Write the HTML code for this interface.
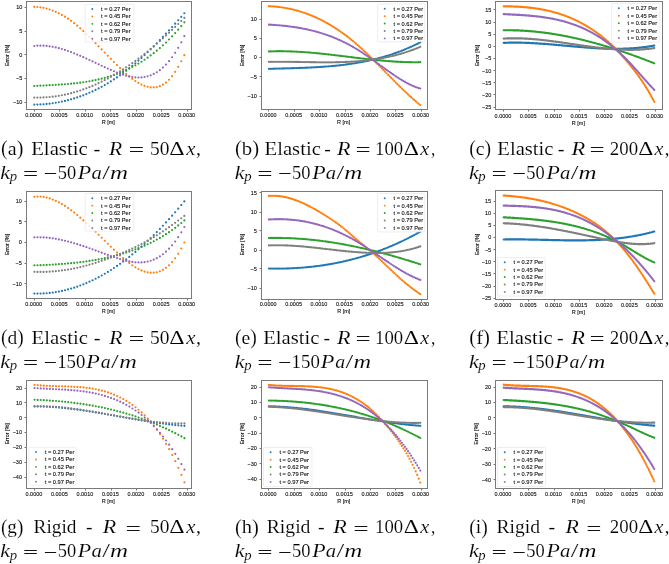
<!DOCTYPE html><html><head><meta charset="utf-8"><style>html,body{margin:0;padding:0;background:#fff;width:669px;height:564px;overflow:hidden}svg{display:block;will-change:transform}.t{font-family:"Liberation Sans",sans-serif;font-size:5.50px;fill:#111}text{font-family:"Liberation Serif",serif;fill:#000;stroke:#fff;stroke-width:0.12px}.t{stroke:#111;stroke-width:0.12px}</style></head><body>
<svg width="669" height="564" viewBox="0 0 669 564">
<defs>
<clipPath id="clipa"><rect x="26.20" y="1.90" width="165.40" height="107.20"/></clipPath>
<clipPath id="clipb"><rect x="261.30" y="1.70" width="166.10" height="107.60"/></clipPath>
<clipPath id="clipc"><rect x="495.80" y="1.50" width="166.60" height="108.30"/></clipPath>
<clipPath id="clipd"><rect x="26.30" y="191.40" width="165.20" height="106.40"/></clipPath>
<clipPath id="clipe"><rect x="261.40" y="191.20" width="166.00" height="107.10"/></clipPath>
<clipPath id="clipf"><rect x="495.70" y="190.40" width="166.70" height="108.20"/></clipPath>
<clipPath id="clipg"><rect x="26.50" y="380.20" width="165.00" height="107.40"/></clipPath>
<clipPath id="cliph"><rect x="261.40" y="380.20" width="166.00" height="107.40"/></clipPath>
<clipPath id="clipi"><rect x="495.50" y="380.10" width="166.90" height="107.70"/></clipPath>
</defs>
<g clip-path="url(#clipa)">
<path d="M34.30 104.62h0M37.36 104.55h0M40.42 104.42h0M43.49 104.23h0M46.55 103.97h0M49.61 103.64h0M52.67 103.24h0M55.73 102.77h0M58.80 102.23h0M61.86 101.62h0M64.92 100.94h0M67.98 100.18h0M71.04 99.36h0M74.11 98.45h0M77.17 97.47h0M80.23 96.42h0M83.29 95.28h0M86.35 94.07h0M89.42 92.77h0M92.48 91.40h0M95.54 89.95h0M98.60 88.41h0M101.66 86.79h0M104.73 85.08h0M107.79 83.29h0M110.85 81.42h0M113.91 79.45h0M116.97 77.40h0M120.04 75.26h0M123.10 73.03h0M126.16 70.71h0M129.22 68.31h0M132.28 65.82h0M135.35 63.26h0M138.41 60.61h0M141.47 57.89h0M144.53 55.10h0M147.59 52.24h0M150.66 49.31h0M153.72 46.31h0M156.78 43.25h0M159.84 40.13h0M162.90 36.95h0M165.97 33.72h0M169.03 30.43h0M172.09 27.09h0M175.15 23.70h0M178.21 20.26h0M181.28 16.78h0M184.34 13.25h0" fill="none" stroke="#1f77b4" stroke-width="2.20" stroke-linecap="round"/>
<path d="M34.30 6.86h0M37.36 7.00h0M40.42 7.33h0M43.49 7.86h0M46.55 8.58h0M49.61 9.48h0M52.67 10.57h0M55.73 11.84h0M58.80 13.29h0M61.86 14.92h0M64.92 16.72h0M67.98 18.70h0M71.04 20.85h0M74.11 23.17h0M77.17 25.65h0M80.23 28.29h0M83.29 31.08h0M86.35 34.00h0M89.42 37.00h0M92.48 40.06h0M95.54 43.16h0M98.60 46.30h0M101.66 49.45h0M104.73 52.61h0M107.79 55.77h0M110.85 58.92h0M113.91 62.03h0M116.97 65.11h0M120.04 68.12h0M123.10 71.03h0M126.16 73.80h0M129.22 76.40h0M132.28 78.81h0M135.35 80.99h0M138.41 82.91h0M141.47 84.53h0M144.53 85.83h0M147.59 86.77h0M150.66 87.32h0M153.72 87.44h0M156.78 87.09h0M159.84 86.20h0M162.90 84.72h0M165.97 82.58h0M169.03 79.73h0M172.09 76.13h0M175.15 71.82h0M178.21 66.84h0M181.28 61.27h0M184.34 55.15h0" fill="none" stroke="#ff7f0e" stroke-width="2.20" stroke-linecap="round"/>
<path d="M34.30 86.01h0M37.36 85.84h0M40.42 85.68h0M43.49 85.53h0M46.55 85.37h0M49.61 85.21h0M52.67 85.05h0M55.73 84.87h0M58.80 84.68h0M61.86 84.47h0M64.92 84.24h0M67.98 83.99h0M71.04 83.71h0M74.11 83.40h0M77.17 83.05h0M80.23 82.67h0M83.29 82.24h0M86.35 81.77h0M89.42 81.25h0M92.48 80.69h0M95.54 80.06h0M98.60 79.38h0M101.66 78.63h0M104.73 77.82h0M107.79 76.94h0M110.85 75.99h0M113.91 74.96h0M116.97 73.86h0M120.04 72.67h0M123.10 71.39h0M126.16 70.03h0M129.22 68.57h0M132.28 67.02h0M135.35 65.37h0M138.41 63.61h0M141.47 61.74h0M144.53 59.76h0M147.59 57.67h0M150.66 55.46h0M153.72 53.13h0M156.78 50.67h0M159.84 48.08h0M162.90 45.36h0M165.97 42.51h0M169.03 39.51h0M172.09 36.37h0M175.15 33.08h0M178.21 29.64h0M181.28 26.05h0M184.34 22.29h0" fill="none" stroke="#2ca02c" stroke-width="2.20" stroke-linecap="round"/>
<path d="M34.30 97.55h0M37.36 97.59h0M40.42 97.55h0M43.49 97.44h0M46.55 97.26h0M49.61 97.00h0M52.67 96.68h0M55.73 96.28h0M58.80 95.80h0M61.86 95.26h0M64.92 94.64h0M67.98 93.95h0M71.04 93.19h0M74.11 92.36h0M77.17 91.46h0M80.23 90.48h0M83.29 89.44h0M86.35 88.32h0M89.42 87.14h0M92.48 85.88h0M95.54 84.55h0M98.60 83.15h0M101.66 81.68h0M104.73 80.14h0M107.79 78.53h0M110.85 76.85h0M113.91 75.11h0M116.97 73.29h0M120.04 71.40h0M123.10 69.45h0M126.16 67.42h0M129.22 65.33h0M132.28 63.18h0M135.35 60.96h0M138.41 58.68h0M141.47 56.34h0M144.53 53.94h0M147.59 51.48h0M150.66 48.96h0M153.72 46.39h0M156.78 43.77h0M159.84 41.09h0M162.90 38.36h0M165.97 35.58h0M169.03 32.76h0M172.09 29.89h0M175.15 26.97h0M178.21 24.00h0M181.28 21.00h0M184.34 17.95h0" fill="none" stroke="#7f7f7f" stroke-width="2.20" stroke-linecap="round"/>
<path d="M34.30 45.98h0M37.36 45.72h0M40.42 45.63h0M43.49 45.71h0M46.55 45.93h0M49.61 46.30h0M52.67 46.79h0M55.73 47.42h0M58.80 48.16h0M61.86 49.00h0M64.92 49.95h0M67.98 50.98h0M71.04 52.09h0M74.11 53.28h0M77.17 54.53h0M80.23 55.83h0M83.29 57.18h0M86.35 58.57h0M89.42 59.98h0M92.48 61.41h0M95.54 62.85h0M98.60 64.30h0M101.66 65.74h0M104.73 67.16h0M107.79 68.56h0M110.85 69.92h0M113.91 71.24h0M116.97 72.49h0M120.04 73.66h0M123.10 74.72h0M126.16 75.64h0M129.22 76.40h0M132.28 76.98h0M135.35 77.35h0M138.41 77.50h0M141.47 77.39h0M144.53 77.01h0M147.59 76.32h0M150.66 75.32h0M153.72 73.96h0M156.78 72.24h0M159.84 70.13h0M162.90 67.59h0M165.97 64.62h0M169.03 61.18h0M172.09 57.26h0M175.15 52.82h0M178.21 47.85h0M181.28 42.32h0M184.34 36.21h0" fill="none" stroke="#9467bd" stroke-width="2.20" stroke-linecap="round"/>
</g>
<rect x="26.50" y="1.50" width="165.00" height="108.00" fill="none" stroke="#7a7a7a" stroke-width="1"/>
<line x1="34.50" y1="109.50" x2="34.50" y2="111.50" stroke="#777" stroke-width="1"/>
<text x="33.60" y="117.20" text-anchor="middle" class="t">0.0000</text>
<line x1="59.50" y1="109.50" x2="59.50" y2="111.50" stroke="#777" stroke-width="1"/>
<text x="59.12" y="117.20" text-anchor="middle" class="t">0.0005</text>
<line x1="85.50" y1="109.50" x2="85.50" y2="111.50" stroke="#777" stroke-width="1"/>
<text x="84.63" y="117.20" text-anchor="middle" class="t">0.0010</text>
<line x1="110.50" y1="109.50" x2="110.50" y2="111.50" stroke="#777" stroke-width="1"/>
<text x="110.15" y="117.20" text-anchor="middle" class="t">0.0015</text>
<line x1="136.50" y1="109.50" x2="136.50" y2="111.50" stroke="#777" stroke-width="1"/>
<text x="135.67" y="117.20" text-anchor="middle" class="t">0.0020</text>
<line x1="161.50" y1="109.50" x2="161.50" y2="111.50" stroke="#777" stroke-width="1"/>
<text x="161.18" y="117.20" text-anchor="middle" class="t">0.0025</text>
<line x1="187.50" y1="109.50" x2="187.50" y2="111.50" stroke="#777" stroke-width="1"/>
<text x="186.70" y="117.20" text-anchor="middle" class="t">0.0030</text>
<line x1="24.50" y1="7.50" x2="26.50" y2="7.50" stroke="#777" stroke-width="1"/>
<text x="22.40" y="9.35" text-anchor="end" class="t">10</text>
<line x1="24.50" y1="31.50" x2="26.50" y2="31.50" stroke="#777" stroke-width="1"/>
<text x="22.40" y="33.05" text-anchor="end" class="t">5</text>
<line x1="24.50" y1="54.50" x2="26.50" y2="54.50" stroke="#777" stroke-width="1"/>
<text x="22.40" y="56.65" text-anchor="end" class="t">0</text>
<line x1="24.50" y1="78.50" x2="26.50" y2="78.50" stroke="#777" stroke-width="1"/>
<text x="22.40" y="80.35" text-anchor="end" class="t">−5</text>
<line x1="24.50" y1="102.50" x2="26.50" y2="102.50" stroke="#777" stroke-width="1"/>
<text x="22.40" y="104.35" text-anchor="end" class="t">−10</text>
<text x="108.20" y="124.00" text-anchor="middle" class="t">R [m]</text>
<text transform="translate(9.00 55.50) rotate(-90)" x="-10.7" class="t" textLength="21.4" lengthAdjust="spacingAndGlyphs">Error [%]</text>
<rect x="85.20" y="4.30" width="48.60" height="37.70" rx="1" fill="#fff" fill-opacity="0.8" stroke="#ddd" stroke-width="0.5"/>
<circle cx="92.30" cy="9.00" r="0.95" fill="#1f77b4"/>
<text x="101.10" y="10.95" class="t" textLength="29.60" lengthAdjust="spacingAndGlyphs">t = 0.27 Per</text>
<circle cx="92.30" cy="16.43" r="0.95" fill="#ff7f0e"/>
<text x="101.10" y="18.38" class="t" textLength="29.60" lengthAdjust="spacingAndGlyphs">t = 0.45 Per</text>
<circle cx="92.30" cy="23.86" r="0.95" fill="#2ca02c"/>
<text x="101.10" y="25.81" class="t" textLength="29.60" lengthAdjust="spacingAndGlyphs">t = 0.62 Per</text>
<circle cx="92.30" cy="31.29" r="0.95" fill="#7f7f7f"/>
<text x="101.10" y="33.24" class="t" textLength="29.60" lengthAdjust="spacingAndGlyphs">t = 0.79 Per</text>
<circle cx="92.30" cy="38.72" r="0.95" fill="#9467bd"/>
<text x="101.10" y="40.67" class="t" textLength="29.60" lengthAdjust="spacingAndGlyphs">t = 0.97 Per</text>
<g clip-path="url(#clipb)">
<path d="M268.90 68.84h0M270.43 68.80h0M271.96 68.75h0M273.49 68.71h0M275.02 68.66h0M276.55 68.62h0M278.07 68.58h0M279.60 68.54h0M281.13 68.50h0M282.66 68.45h0M284.19 68.41h0M285.72 68.37h0M287.25 68.33h0M288.78 68.29h0M290.31 68.24h0M291.84 68.20h0M293.37 68.15h0M294.89 68.11h0M296.42 68.06h0M297.95 68.01h0M299.48 67.96h0M301.01 67.90h0M302.54 67.84h0M304.07 67.79h0M305.60 67.72h0M307.13 67.66h0M308.66 67.59h0M310.19 67.52h0M311.71 67.45h0M313.24 67.37h0M314.77 67.29h0M316.30 67.20h0M317.83 67.12h0M319.36 67.02h0M320.89 66.92h0M322.42 66.82h0M323.95 66.71h0M325.48 66.60h0M327.01 66.49h0M328.53 66.36h0M330.06 66.23h0M331.59 66.10h0M333.12 65.96h0M334.65 65.81h0M336.18 65.66h0M337.71 65.50h0M339.24 65.34h0M340.77 65.17h0M342.30 64.99h0M343.82 64.80h0M345.35 64.61h0M346.88 64.41h0M348.41 64.20h0M349.94 63.98h0M351.47 63.76h0M353.00 63.52h0M354.53 63.28h0M356.06 63.03h0M357.59 62.77h0M359.12 62.51h0M360.64 62.23h0M362.17 61.94h0M363.70 61.65h0M365.23 61.34h0M366.76 61.03h0M368.29 60.70h0M369.82 60.37h0M371.35 60.02h0M372.88 59.66h0M374.41 59.30h0M375.94 58.92h0M377.46 58.53h0M378.99 58.13h0M380.52 57.72h0M382.05 57.29h0M383.58 56.86h0M385.11 56.41h0M386.64 55.95h0M388.17 55.48h0M389.70 54.99h0M391.23 54.49h0M392.76 53.98h0M394.28 53.46h0M395.81 52.92h0M397.34 52.37h0M398.87 51.81h0M400.40 51.23h0M401.93 50.64h0M403.46 50.03h0M404.99 49.41h0M406.52 48.77h0M408.05 48.12h0M409.58 47.46h0M411.10 46.78h0M412.63 46.08h0M414.16 45.37h0M415.69 44.64h0M417.22 43.90h0M418.75 43.14h0M420.28 42.37h0" fill="none" stroke="#1f77b4" stroke-width="2.20" stroke-linecap="round"/>
<path d="M268.90 6.20h0M270.43 6.26h0M271.96 6.35h0M273.49 6.45h0M275.02 6.58h0M276.55 6.72h0M278.07 6.89h0M279.60 7.07h0M281.13 7.27h0M282.66 7.50h0M284.19 7.74h0M285.72 8.00h0M287.25 8.28h0M288.78 8.59h0M290.31 8.91h0M291.84 9.26h0M293.37 9.62h0M294.89 10.01h0M296.42 10.41h0M297.95 10.84h0M299.48 11.29h0M301.01 11.76h0M302.54 12.25h0M304.07 12.76h0M305.60 13.30h0M307.13 13.85h0M308.66 14.43h0M310.19 15.03h0M311.71 15.65h0M313.24 16.29h0M314.77 16.96h0M316.30 17.65h0M317.83 18.36h0M319.36 19.09h0M320.89 19.84h0M322.42 20.62h0M323.95 21.42h0M325.48 22.24h0M327.01 23.09h0M328.53 23.96h0M330.06 24.85h0M331.59 25.76h0M333.12 26.70h0M334.65 27.67h0M336.18 28.65h0M337.71 29.66h0M339.24 30.70h0M340.77 31.75h0M342.30 32.83h0M343.82 33.94h0M345.35 35.07h0M346.88 36.22h0M348.41 37.40h0M349.94 38.61h0M351.47 39.83h0M353.00 41.09h0M354.53 42.37h0M356.06 43.67h0M357.59 45.00h0M359.12 46.35h0M360.64 47.72h0M362.17 49.12h0M363.70 50.53h0M365.23 51.96h0M366.76 53.42h0M368.29 54.88h0M369.82 56.36h0M371.35 57.86h0M372.88 59.36h0M374.41 60.88h0M375.94 62.41h0M377.46 63.95h0M378.99 65.49h0M380.52 67.04h0M382.05 68.59h0M383.58 70.14h0M385.11 71.70h0M386.64 73.26h0M388.17 74.81h0M389.70 76.37h0M391.23 77.92h0M392.76 79.47h0M394.28 81.01h0M395.81 82.54h0M397.34 84.06h0M398.87 85.58h0M400.40 87.08h0M401.93 88.57h0M403.46 90.05h0M404.99 91.51h0M406.52 92.95h0M408.05 94.38h0M409.58 95.79h0M411.10 97.18h0M412.63 98.54h0M414.16 99.89h0M415.69 101.20h0M417.22 102.50h0M418.75 103.76h0M420.28 105.00h0" fill="none" stroke="#ff7f0e" stroke-width="2.20" stroke-linecap="round"/>
<path d="M268.90 51.44h0M270.43 51.38h0M271.96 51.33h0M273.49 51.28h0M275.02 51.25h0M276.55 51.22h0M278.07 51.21h0M279.60 51.20h0M281.13 51.20h0M282.66 51.21h0M284.19 51.23h0M285.72 51.26h0M287.25 51.29h0M288.78 51.33h0M290.31 51.38h0M291.84 51.44h0M293.37 51.50h0M294.89 51.57h0M296.42 51.65h0M297.95 51.73h0M299.48 51.82h0M301.01 51.91h0M302.54 52.02h0M304.07 52.12h0M305.60 52.23h0M307.13 52.35h0M308.66 52.47h0M310.19 52.60h0M311.71 52.73h0M313.24 52.87h0M314.77 53.01h0M316.30 53.16h0M317.83 53.31h0M319.36 53.46h0M320.89 53.62h0M322.42 53.78h0M323.95 53.94h0M325.48 54.11h0M327.01 54.28h0M328.53 54.45h0M330.06 54.62h0M331.59 54.80h0M333.12 54.98h0M334.65 55.16h0M336.18 55.34h0M337.71 55.52h0M339.24 55.70h0M340.77 55.89h0M342.30 56.08h0M343.82 56.26h0M345.35 56.45h0M346.88 56.64h0M348.41 56.83h0M349.94 57.01h0M351.47 57.20h0M353.00 57.39h0M354.53 57.57h0M356.06 57.76h0M357.59 57.94h0M359.12 58.13h0M360.64 58.31h0M362.17 58.49h0M363.70 58.66h0M365.23 58.84h0M366.76 59.01h0M368.29 59.19h0M369.82 59.35h0M371.35 59.52h0M372.88 59.68h0M374.41 59.84h0M375.94 60.00h0M377.46 60.15h0M378.99 60.30h0M380.52 60.44h0M382.05 60.59h0M383.58 60.72h0M385.11 60.85h0M386.64 60.98h0M388.17 61.10h0M389.70 61.22h0M391.23 61.33h0M392.76 61.44h0M394.28 61.54h0M395.81 61.63h0M397.34 61.72h0M398.87 61.80h0M400.40 61.88h0M401.93 61.95h0M403.46 62.01h0M404.99 62.07h0M406.52 62.11h0M408.05 62.15h0M409.58 62.19h0M411.10 62.21h0M412.63 62.23h0M414.16 62.24h0M415.69 62.24h0M417.22 62.23h0M418.75 62.21h0M420.28 62.19h0" fill="none" stroke="#2ca02c" stroke-width="2.20" stroke-linecap="round"/>
<path d="M268.90 61.86h0M270.43 61.83h0M271.96 61.81h0M273.49 61.79h0M275.02 61.77h0M276.55 61.76h0M278.07 61.76h0M279.60 61.75h0M281.13 61.75h0M282.66 61.76h0M284.19 61.77h0M285.72 61.78h0M287.25 61.79h0M288.78 61.80h0M290.31 61.82h0M291.84 61.84h0M293.37 61.86h0M294.89 61.88h0M296.42 61.91h0M297.95 61.93h0M299.48 61.96h0M301.01 61.99h0M302.54 62.01h0M304.07 62.04h0M305.60 62.07h0M307.13 62.09h0M308.66 62.12h0M310.19 62.14h0M311.71 62.17h0M313.24 62.19h0M314.77 62.21h0M316.30 62.23h0M317.83 62.25h0M319.36 62.26h0M320.89 62.28h0M322.42 62.29h0M323.95 62.29h0M325.48 62.30h0M327.01 62.30h0M328.53 62.30h0M330.06 62.29h0M331.59 62.28h0M333.12 62.26h0M334.65 62.25h0M336.18 62.22h0M337.71 62.19h0M339.24 62.16h0M340.77 62.12h0M342.30 62.07h0M343.82 62.02h0M345.35 61.97h0M346.88 61.90h0M348.41 61.83h0M349.94 61.76h0M351.47 61.67h0M353.00 61.58h0M354.53 61.48h0M356.06 61.37h0M357.59 61.26h0M359.12 61.14h0M360.64 61.01h0M362.17 60.87h0M363.70 60.72h0M365.23 60.56h0M366.76 60.39h0M368.29 60.22h0M369.82 60.03h0M371.35 59.83h0M372.88 59.63h0M374.41 59.41h0M375.94 59.18h0M377.46 58.94h0M378.99 58.69h0M380.52 58.43h0M382.05 58.16h0M383.58 57.87h0M385.11 57.58h0M386.64 57.27h0M388.17 56.95h0M389.70 56.61h0M391.23 56.26h0M392.76 55.90h0M394.28 55.53h0M395.81 55.14h0M397.34 54.74h0M398.87 54.32h0M400.40 53.89h0M401.93 53.44h0M403.46 52.98h0M404.99 52.51h0M406.52 52.01h0M408.05 51.51h0M409.58 50.99h0M411.10 50.45h0M412.63 49.89h0M414.16 49.32h0M415.69 48.73h0M417.22 48.13h0M418.75 47.51h0M420.28 46.87h0" fill="none" stroke="#7f7f7f" stroke-width="2.20" stroke-linecap="round"/>
<path d="M268.90 24.64h0M270.43 24.72h0M271.96 24.81h0M273.49 24.91h0M275.02 25.01h0M276.55 25.12h0M278.07 25.25h0M279.60 25.37h0M281.13 25.51h0M282.66 25.66h0M284.19 25.81h0M285.72 25.97h0M287.25 26.15h0M288.78 26.33h0M290.31 26.53h0M291.84 26.73h0M293.37 26.95h0M294.89 27.17h0M296.42 27.41h0M297.95 27.66h0M299.48 27.92h0M301.01 28.20h0M302.54 28.48h0M304.07 28.78h0M305.60 29.10h0M307.13 29.42h0M308.66 29.76h0M310.19 30.12h0M311.71 30.49h0M313.24 30.87h0M314.77 31.27h0M316.30 31.68h0M317.83 32.11h0M319.36 32.55h0M320.89 33.02h0M322.42 33.49h0M323.95 33.99h0M325.48 34.50h0M327.01 35.03h0M328.53 35.57h0M330.06 36.14h0M331.59 36.72h0M333.12 37.32h0M334.65 37.94h0M336.18 38.58h0M337.71 39.24h0M339.24 39.91h0M340.77 40.61h0M342.30 41.33h0M343.82 42.07h0M345.35 42.83h0M346.88 43.61h0M348.41 44.41h0M349.94 45.23h0M351.47 46.08h0M353.00 46.94h0M354.53 47.83h0M356.06 48.75h0M357.59 49.68h0M359.12 50.64h0M360.64 51.62h0M362.17 52.62h0M363.70 53.63h0M365.23 54.66h0M366.76 55.70h0M368.29 56.76h0M369.82 57.83h0M371.35 58.91h0M372.88 59.99h0M374.41 61.09h0M375.94 62.19h0M377.46 63.29h0M378.99 64.40h0M380.52 65.50h0M382.05 66.61h0M383.58 67.71h0M385.11 68.82h0M386.64 69.91h0M388.17 71.00h0M389.70 72.09h0M391.23 73.16h0M392.76 74.22h0M394.28 75.26h0M395.81 76.29h0M397.34 77.30h0M398.87 78.29h0M400.40 79.25h0M401.93 80.18h0M403.46 81.09h0M404.99 81.97h0M406.52 82.81h0M408.05 83.62h0M409.58 84.39h0M411.10 85.12h0M412.63 85.80h0M414.16 86.45h0M415.69 87.04h0M417.22 87.59h0M418.75 88.08h0M420.28 88.52h0" fill="none" stroke="#9467bd" stroke-width="2.20" stroke-linecap="round"/>
</g>
<rect x="261.50" y="1.50" width="166.00" height="108.00" fill="none" stroke="#7a7a7a" stroke-width="1"/>
<line x1="268.50" y1="109.50" x2="268.50" y2="111.50" stroke="#777" stroke-width="1"/>
<text x="268.20" y="117.40" text-anchor="middle" class="t">0.0000</text>
<line x1="294.50" y1="109.50" x2="294.50" y2="111.50" stroke="#777" stroke-width="1"/>
<text x="293.60" y="117.40" text-anchor="middle" class="t">0.0005</text>
<line x1="319.50" y1="109.50" x2="319.50" y2="111.50" stroke="#777" stroke-width="1"/>
<text x="319.00" y="117.40" text-anchor="middle" class="t">0.0010</text>
<line x1="345.50" y1="109.50" x2="345.50" y2="111.50" stroke="#777" stroke-width="1"/>
<text x="344.40" y="117.40" text-anchor="middle" class="t">0.0015</text>
<line x1="370.50" y1="109.50" x2="370.50" y2="111.50" stroke="#777" stroke-width="1"/>
<text x="369.80" y="117.40" text-anchor="middle" class="t">0.0020</text>
<line x1="395.50" y1="109.50" x2="395.50" y2="111.50" stroke="#777" stroke-width="1"/>
<text x="395.20" y="117.40" text-anchor="middle" class="t">0.0025</text>
<line x1="421.50" y1="109.50" x2="421.50" y2="111.50" stroke="#777" stroke-width="1"/>
<text x="420.60" y="117.40" text-anchor="middle" class="t">0.0030</text>
<line x1="259.50" y1="19.50" x2="261.50" y2="19.50" stroke="#777" stroke-width="1"/>
<text x="256.80" y="21.05" text-anchor="end" class="t">10</text>
<line x1="259.50" y1="38.50" x2="261.50" y2="38.50" stroke="#777" stroke-width="1"/>
<text x="256.80" y="40.15" text-anchor="end" class="t">5</text>
<line x1="259.50" y1="57.50" x2="261.50" y2="57.50" stroke="#777" stroke-width="1"/>
<text x="256.80" y="59.45" text-anchor="end" class="t">0</text>
<line x1="259.50" y1="76.50" x2="261.50" y2="76.50" stroke="#777" stroke-width="1"/>
<text x="256.80" y="78.75" text-anchor="end" class="t">−5</text>
<line x1="259.50" y1="96.50" x2="261.50" y2="96.50" stroke="#777" stroke-width="1"/>
<text x="256.80" y="98.05" text-anchor="end" class="t">−10</text>
<text x="343.65" y="124.20" text-anchor="middle" class="t">R [m]</text>
<text transform="translate(244.10 55.50) rotate(-90)" x="-10.7" class="t" textLength="21.4" lengthAdjust="spacingAndGlyphs">Error [%]</text>
<rect x="377.60" y="4.00" width="47.20" height="37.80" rx="1" fill="#fff" fill-opacity="0.8" stroke="#ddd" stroke-width="0.5"/>
<circle cx="384.70" cy="8.70" r="0.95" fill="#1f77b4"/>
<text x="393.50" y="10.65" class="t" textLength="29.60" lengthAdjust="spacingAndGlyphs">t = 0.27 Per</text>
<circle cx="384.70" cy="16.13" r="0.95" fill="#ff7f0e"/>
<text x="393.50" y="18.08" class="t" textLength="29.60" lengthAdjust="spacingAndGlyphs">t = 0.45 Per</text>
<circle cx="384.70" cy="23.56" r="0.95" fill="#2ca02c"/>
<text x="393.50" y="25.51" class="t" textLength="29.60" lengthAdjust="spacingAndGlyphs">t = 0.62 Per</text>
<circle cx="384.70" cy="30.99" r="0.95" fill="#7f7f7f"/>
<text x="393.50" y="32.94" class="t" textLength="29.60" lengthAdjust="spacingAndGlyphs">t = 0.79 Per</text>
<circle cx="384.70" cy="38.42" r="0.95" fill="#9467bd"/>
<text x="393.50" y="40.37" class="t" textLength="29.60" lengthAdjust="spacingAndGlyphs">t = 0.97 Per</text>
<g clip-path="url(#clipc)">
<path d="M503.70 42.87h0M504.46 42.84h0M505.21 42.81h0M505.97 42.78h0M506.73 42.75h0M507.48 42.73h0M508.24 42.71h0M509.00 42.69h0M509.75 42.68h0M510.51 42.66h0M511.27 42.65h0M512.02 42.64h0M512.78 42.63h0M513.54 42.63h0M514.29 42.63h0M515.05 42.63h0M515.81 42.63h0M516.56 42.63h0M517.32 42.64h0M518.08 42.65h0M518.83 42.65h0M519.59 42.67h0M520.35 42.68h0M521.10 42.69h0M521.86 42.71h0M522.62 42.73h0M523.37 42.75h0M524.13 42.77h0M524.89 42.80h0M525.64 42.82h0M526.40 42.85h0M527.16 42.88h0M527.91 42.91h0M528.67 42.94h0M529.43 42.97h0M530.18 43.01h0M530.94 43.04h0M531.70 43.08h0M532.45 43.12h0M533.21 43.16h0M533.97 43.20h0M534.72 43.25h0M535.48 43.29h0M536.24 43.33h0M537.00 43.38h0M537.75 43.43h0M538.51 43.48h0M539.27 43.53h0M540.02 43.58h0M540.78 43.63h0M541.54 43.68h0M542.29 43.74h0M543.05 43.79h0M543.81 43.85h0M544.56 43.91h0M545.32 43.96h0M546.08 44.02h0M546.83 44.08h0M547.59 44.14h0M548.35 44.20h0M549.10 44.26h0M549.86 44.33h0M550.62 44.39h0M551.37 44.45h0M552.13 44.52h0M552.89 44.58h0M553.64 44.65h0M554.40 44.71h0M555.16 44.78h0M555.91 44.84h0M556.67 44.91h0M557.43 44.98h0M558.18 45.05h0M558.94 45.11h0M559.70 45.18h0M560.45 45.25h0M561.21 45.32h0M561.97 45.39h0M562.72 45.46h0M563.48 45.53h0M564.24 45.59h0M564.99 45.66h0M565.75 45.73h0M566.51 45.80h0M567.26 45.87h0M568.02 45.94h0M568.78 46.01h0M569.53 46.08h0M570.29 46.15h0M571.05 46.21h0M571.80 46.28h0M572.56 46.35h0M573.32 46.42h0M574.07 46.49h0M574.83 46.55h0M575.59 46.62h0M576.34 46.69h0M577.10 46.75h0M577.86 46.82h0M578.61 46.88h0M579.37 46.95h0M580.13 47.01h0M580.88 47.07h0M581.64 47.14h0M582.40 47.20h0M583.15 47.26h0M583.91 47.32h0M584.67 47.38h0M585.42 47.44h0M586.18 47.50h0M586.94 47.55h0M587.69 47.61h0M588.45 47.66h0M589.21 47.72h0M589.96 47.77h0M590.72 47.82h0M591.48 47.88h0M592.23 47.93h0M592.99 47.98h0M593.75 48.02h0M594.50 48.07h0M595.26 48.12h0M596.02 48.16h0M596.77 48.21h0M597.53 48.25h0M598.29 48.29h0M599.04 48.33h0M599.80 48.37h0M600.56 48.40h0M601.31 48.44h0M602.07 48.47h0M602.83 48.51h0M603.59 48.54h0M604.34 48.57h0M605.10 48.59h0M605.86 48.62h0M606.61 48.64h0M607.37 48.67h0M608.13 48.69h0M608.88 48.71h0M609.64 48.73h0M610.40 48.74h0M611.15 48.76h0M611.91 48.77h0M612.67 48.78h0M613.42 48.79h0M614.18 48.79h0M614.94 48.80h0M615.69 48.80h0M616.45 48.80h0M617.21 48.80h0M617.96 48.79h0M618.72 48.79h0M619.48 48.78h0M620.23 48.77h0M620.99 48.76h0M621.75 48.74h0M622.50 48.73h0M623.26 48.71h0M624.02 48.68h0M624.77 48.66h0M625.53 48.63h0M626.29 48.60h0M627.04 48.57h0M627.80 48.54h0M628.56 48.50h0M629.31 48.46h0M630.07 48.42h0M630.83 48.38h0M631.58 48.33h0M632.34 48.28h0M633.10 48.23h0M633.85 48.17h0M634.61 48.12h0M635.37 48.05h0M636.12 47.99h0M636.88 47.92h0M637.64 47.86h0M638.39 47.78h0M639.15 47.71h0M639.91 47.63h0M640.66 47.55h0M641.42 47.46h0M642.18 47.38h0M642.93 47.29h0M643.69 47.19h0M644.45 47.10h0M645.20 46.99h0M645.96 46.89h0M646.72 46.78h0M647.47 46.67h0M648.23 46.56h0M648.99 46.44h0M649.74 46.32h0M650.50 46.20h0M651.26 46.07h0M652.01 45.94h0M652.77 45.81h0M653.53 45.67h0M654.28 45.53h0" fill="none" stroke="#1f77b4" stroke-width="2.20" stroke-linecap="round"/>
<path d="M503.70 6.33h0M504.46 6.33h0M505.21 6.34h0M505.97 6.35h0M506.73 6.36h0M507.48 6.37h0M508.24 6.38h0M509.00 6.39h0M509.75 6.41h0M510.51 6.43h0M511.27 6.45h0M512.02 6.47h0M512.78 6.50h0M513.54 6.52h0M514.29 6.55h0M515.05 6.58h0M515.81 6.61h0M516.56 6.65h0M517.32 6.68h0M518.08 6.72h0M518.83 6.77h0M519.59 6.81h0M520.35 6.86h0M521.10 6.91h0M521.86 6.96h0M522.62 7.01h0M523.37 7.07h0M524.13 7.13h0M524.89 7.19h0M525.64 7.26h0M526.40 7.32h0M527.16 7.39h0M527.91 7.47h0M528.67 7.54h0M529.43 7.62h0M530.18 7.71h0M530.94 7.79h0M531.70 7.88h0M532.45 7.98h0M533.21 8.07h0M533.97 8.17h0M534.72 8.27h0M535.48 8.38h0M536.24 8.49h0M537.00 8.60h0M537.75 8.72h0M538.51 8.84h0M539.27 8.96h0M540.02 9.09h0M540.78 9.22h0M541.54 9.35h0M542.29 9.49h0M543.05 9.63h0M543.81 9.78h0M544.56 9.93h0M545.32 10.09h0M546.08 10.24h0M546.83 10.41h0M547.59 10.57h0M548.35 10.74h0M549.10 10.92h0M549.86 11.10h0M550.62 11.28h0M551.37 11.47h0M552.13 11.67h0M552.89 11.86h0M553.64 12.06h0M554.40 12.27h0M555.16 12.48h0M555.91 12.70h0M556.67 12.92h0M557.43 13.14h0M558.18 13.37h0M558.94 13.61h0M559.70 13.85h0M560.45 14.09h0M561.21 14.35h0M561.97 14.60h0M562.72 14.86h0M563.48 15.13h0M564.24 15.40h0M564.99 15.67h0M565.75 15.95h0M566.51 16.24h0M567.26 16.53h0M568.02 16.83h0M568.78 17.13h0M569.53 17.44h0M570.29 17.76h0M571.05 18.08h0M571.80 18.40h0M572.56 18.73h0M573.32 19.07h0M574.07 19.41h0M574.83 19.76h0M575.59 20.12h0M576.34 20.48h0M577.10 20.84h0M577.86 21.22h0M578.61 21.59h0M579.37 21.98h0M580.13 22.37h0M580.88 22.77h0M581.64 23.17h0M582.40 23.58h0M583.15 24.00h0M583.91 24.42h0M584.67 24.85h0M585.42 25.29h0M586.18 25.73h0M586.94 26.18h0M587.69 26.64h0M588.45 27.10h0M589.21 27.57h0M589.96 28.04h0M590.72 28.53h0M591.48 29.02h0M592.23 29.52h0M592.99 30.02h0M593.75 30.53h0M594.50 31.05h0M595.26 31.58h0M596.02 32.11h0M596.77 32.65h0M597.53 33.20h0M598.29 33.75h0M599.04 34.31h0M599.80 34.88h0M600.56 35.46h0M601.31 36.04h0M602.07 36.64h0M602.83 37.24h0M603.59 37.85h0M604.34 38.47h0M605.10 39.09h0M605.86 39.73h0M606.61 40.37h0M607.37 41.03h0M608.13 41.69h0M608.88 42.36h0M609.64 43.04h0M610.40 43.73h0M611.15 44.43h0M611.91 45.14h0M612.67 45.86h0M613.42 46.59h0M614.18 47.33h0M614.94 48.08h0M615.69 48.84h0M616.45 49.62h0M617.21 50.40h0M617.96 51.19h0M618.72 52.00h0M619.48 52.81h0M620.23 53.64h0M620.99 54.47h0M621.75 55.32h0M622.50 56.17h0M623.26 57.03h0M624.02 57.90h0M624.77 58.77h0M625.53 59.66h0M626.29 60.55h0M627.04 61.44h0M627.80 62.35h0M628.56 63.26h0M629.31 64.18h0M630.07 65.10h0M630.83 66.03h0M631.58 66.97h0M632.34 67.92h0M633.10 68.88h0M633.85 69.84h0M634.61 70.82h0M635.37 71.81h0M636.12 72.81h0M636.88 73.82h0M637.64 74.85h0M638.39 75.88h0M639.15 76.94h0M639.91 78.00h0M640.66 79.09h0M641.42 80.18h0M642.18 81.30h0M642.93 82.43h0M643.69 83.58h0M644.45 84.74h0M645.20 85.93h0M645.96 87.13h0M646.72 88.36h0M647.47 89.60h0M648.23 90.87h0M648.99 92.16h0M649.74 93.47h0M650.50 94.80h0M651.26 96.16h0M652.01 97.53h0M652.77 98.94h0M653.53 100.37h0M654.28 101.82h0" fill="none" stroke="#ff7f0e" stroke-width="2.20" stroke-linecap="round"/>
<path d="M503.70 30.25h0M504.46 30.24h0M505.21 30.24h0M505.97 30.23h0M506.73 30.23h0M507.48 30.23h0M508.24 30.23h0M509.00 30.23h0M509.75 30.24h0M510.51 30.25h0M511.27 30.26h0M512.02 30.27h0M512.78 30.28h0M513.54 30.30h0M514.29 30.32h0M515.05 30.34h0M515.81 30.36h0M516.56 30.38h0M517.32 30.41h0M518.08 30.44h0M518.83 30.47h0M519.59 30.50h0M520.35 30.54h0M521.10 30.58h0M521.86 30.61h0M522.62 30.66h0M523.37 30.70h0M524.13 30.74h0M524.89 30.79h0M525.64 30.84h0M526.40 30.89h0M527.16 30.94h0M527.91 31.00h0M528.67 31.06h0M529.43 31.12h0M530.18 31.18h0M530.94 31.24h0M531.70 31.30h0M532.45 31.37h0M533.21 31.44h0M533.97 31.51h0M534.72 31.58h0M535.48 31.66h0M536.24 31.74h0M537.00 31.81h0M537.75 31.90h0M538.51 31.98h0M539.27 32.06h0M540.02 32.15h0M540.78 32.24h0M541.54 32.33h0M542.29 32.42h0M543.05 32.51h0M543.81 32.61h0M544.56 32.70h0M545.32 32.80h0M546.08 32.91h0M546.83 33.01h0M547.59 33.11h0M548.35 33.22h0M549.10 33.33h0M549.86 33.44h0M550.62 33.55h0M551.37 33.66h0M552.13 33.78h0M552.89 33.90h0M553.64 34.02h0M554.40 34.14h0M555.16 34.26h0M555.91 34.39h0M556.67 34.51h0M557.43 34.64h0M558.18 34.77h0M558.94 34.90h0M559.70 35.03h0M560.45 35.17h0M561.21 35.31h0M561.97 35.45h0M562.72 35.59h0M563.48 35.73h0M564.24 35.87h0M564.99 36.02h0M565.75 36.16h0M566.51 36.31h0M567.26 36.46h0M568.02 36.62h0M568.78 36.77h0M569.53 36.92h0M570.29 37.08h0M571.05 37.24h0M571.80 37.40h0M572.56 37.56h0M573.32 37.73h0M574.07 37.89h0M574.83 38.06h0M575.59 38.23h0M576.34 38.40h0M577.10 38.57h0M577.86 38.74h0M578.61 38.92h0M579.37 39.09h0M580.13 39.27h0M580.88 39.45h0M581.64 39.63h0M582.40 39.81h0M583.15 40.00h0M583.91 40.18h0M584.67 40.37h0M585.42 40.56h0M586.18 40.75h0M586.94 40.94h0M587.69 41.14h0M588.45 41.33h0M589.21 41.53h0M589.96 41.73h0M590.72 41.92h0M591.48 42.13h0M592.23 42.33h0M592.99 42.53h0M593.75 42.74h0M594.50 42.94h0M595.26 43.15h0M596.02 43.36h0M596.77 43.57h0M597.53 43.79h0M598.29 44.00h0M599.04 44.22h0M599.80 44.43h0M600.56 44.65h0M601.31 44.87h0M602.07 45.09h0M602.83 45.31h0M603.59 45.54h0M604.34 45.76h0M605.10 45.99h0M605.86 46.22h0M606.61 46.45h0M607.37 46.68h0M608.13 46.91h0M608.88 47.14h0M609.64 47.38h0M610.40 47.61h0M611.15 47.85h0M611.91 48.09h0M612.67 48.33h0M613.42 48.57h0M614.18 48.81h0M614.94 49.05h0M615.69 49.30h0M616.45 49.55h0M617.21 49.79h0M617.96 50.04h0M618.72 50.29h0M619.48 50.54h0M620.23 50.79h0M620.99 51.05h0M621.75 51.30h0M622.50 51.56h0M623.26 51.82h0M624.02 52.07h0M624.77 52.33h0M625.53 52.59h0M626.29 52.85h0M627.04 53.12h0M627.80 53.38h0M628.56 53.65h0M629.31 53.91h0M630.07 54.18h0M630.83 54.45h0M631.58 54.72h0M632.34 54.99h0M633.10 55.26h0M633.85 55.53h0M634.61 55.81h0M635.37 56.08h0M636.12 56.36h0M636.88 56.63h0M637.64 56.91h0M638.39 57.19h0M639.15 57.47h0M639.91 57.75h0M640.66 58.03h0M641.42 58.32h0M642.18 58.60h0M642.93 58.89h0M643.69 59.17h0M644.45 59.46h0M645.20 59.75h0M645.96 60.04h0M646.72 60.33h0M647.47 60.62h0M648.23 60.91h0M648.99 61.20h0M649.74 61.50h0M650.50 61.79h0M651.26 62.09h0M652.01 62.38h0M652.77 62.68h0M653.53 62.98h0M654.28 63.28h0" fill="none" stroke="#2ca02c" stroke-width="2.20" stroke-linecap="round"/>
<path d="M503.70 38.60h0M504.46 38.56h0M505.21 38.52h0M505.97 38.48h0M506.73 38.45h0M507.48 38.42h0M508.24 38.39h0M509.00 38.37h0M509.75 38.35h0M510.51 38.33h0M511.27 38.32h0M512.02 38.31h0M512.78 38.30h0M513.54 38.30h0M514.29 38.30h0M515.05 38.30h0M515.81 38.30h0M516.56 38.31h0M517.32 38.32h0M518.08 38.33h0M518.83 38.35h0M519.59 38.37h0M520.35 38.39h0M521.10 38.41h0M521.86 38.44h0M522.62 38.47h0M523.37 38.50h0M524.13 38.53h0M524.89 38.57h0M525.64 38.61h0M526.40 38.65h0M527.16 38.69h0M527.91 38.74h0M528.67 38.79h0M529.43 38.84h0M530.18 38.89h0M530.94 38.94h0M531.70 39.00h0M532.45 39.06h0M533.21 39.12h0M533.97 39.18h0M534.72 39.25h0M535.48 39.31h0M536.24 39.38h0M537.00 39.45h0M537.75 39.52h0M538.51 39.60h0M539.27 39.67h0M540.02 39.75h0M540.78 39.83h0M541.54 39.91h0M542.29 39.99h0M543.05 40.07h0M543.81 40.16h0M544.56 40.25h0M545.32 40.33h0M546.08 40.42h0M546.83 40.51h0M547.59 40.61h0M548.35 40.70h0M549.10 40.79h0M549.86 40.89h0M550.62 40.99h0M551.37 41.08h0M552.13 41.18h0M552.89 41.28h0M553.64 41.38h0M554.40 41.48h0M555.16 41.59h0M555.91 41.69h0M556.67 41.79h0M557.43 41.90h0M558.18 42.01h0M558.94 42.11h0M559.70 42.22h0M560.45 42.33h0M561.21 42.44h0M561.97 42.54h0M562.72 42.65h0M563.48 42.76h0M564.24 42.87h0M564.99 42.99h0M565.75 43.10h0M566.51 43.21h0M567.26 43.32h0M568.02 43.43h0M568.78 43.54h0M569.53 43.66h0M570.29 43.77h0M571.05 43.88h0M571.80 44.00h0M572.56 44.11h0M573.32 44.22h0M574.07 44.33h0M574.83 44.45h0M575.59 44.56h0M576.34 44.67h0M577.10 44.78h0M577.86 44.90h0M578.61 45.01h0M579.37 45.12h0M580.13 45.23h0M580.88 45.34h0M581.64 45.45h0M582.40 45.56h0M583.15 45.67h0M583.91 45.78h0M584.67 45.88h0M585.42 45.99h0M586.18 46.10h0M586.94 46.20h0M587.69 46.31h0M588.45 46.41h0M589.21 46.52h0M589.96 46.62h0M590.72 46.72h0M591.48 46.82h0M592.23 46.92h0M592.99 47.02h0M593.75 47.12h0M594.50 47.21h0M595.26 47.31h0M596.02 47.40h0M596.77 47.50h0M597.53 47.59h0M598.29 47.68h0M599.04 47.77h0M599.80 47.86h0M600.56 47.94h0M601.31 48.03h0M602.07 48.11h0M602.83 48.19h0M603.59 48.27h0M604.34 48.35h0M605.10 48.43h0M605.86 48.50h0M606.61 48.58h0M607.37 48.65h0M608.13 48.72h0M608.88 48.79h0M609.64 48.86h0M610.40 48.92h0M611.15 48.98h0M611.91 49.04h0M612.67 49.10h0M613.42 49.16h0M614.18 49.21h0M614.94 49.27h0M615.69 49.32h0M616.45 49.36h0M617.21 49.41h0M617.96 49.45h0M618.72 49.49h0M619.48 49.53h0M620.23 49.57h0M620.99 49.60h0M621.75 49.63h0M622.50 49.66h0M623.26 49.69h0M624.02 49.71h0M624.77 49.73h0M625.53 49.75h0M626.29 49.77h0M627.04 49.78h0M627.80 49.79h0M628.56 49.80h0M629.31 49.80h0M630.07 49.80h0M630.83 49.80h0M631.58 49.80h0M632.34 49.79h0M633.10 49.78h0M633.85 49.76h0M634.61 49.75h0M635.37 49.73h0M636.12 49.70h0M636.88 49.68h0M637.64 49.65h0M638.39 49.61h0M639.15 49.58h0M639.91 49.54h0M640.66 49.49h0M641.42 49.45h0M642.18 49.40h0M642.93 49.34h0M643.69 49.28h0M644.45 49.22h0M645.20 49.16h0M645.96 49.09h0M646.72 49.02h0M647.47 48.94h0M648.23 48.86h0M648.99 48.78h0M649.74 48.69h0M650.50 48.60h0M651.26 48.50h0M652.01 48.40h0M652.77 48.30h0M653.53 48.19h0M654.28 48.08h0" fill="none" stroke="#7f7f7f" stroke-width="2.20" stroke-linecap="round"/>
<path d="M503.70 14.11h0M504.46 14.15h0M505.21 14.19h0M505.97 14.23h0M506.73 14.26h0M507.48 14.30h0M508.24 14.34h0M509.00 14.38h0M509.75 14.42h0M510.51 14.46h0M511.27 14.50h0M512.02 14.54h0M512.78 14.58h0M513.54 14.62h0M514.29 14.66h0M515.05 14.70h0M515.81 14.74h0M516.56 14.78h0M517.32 14.83h0M518.08 14.87h0M518.83 14.92h0M519.59 14.96h0M520.35 15.01h0M521.10 15.06h0M521.86 15.10h0M522.62 15.16h0M523.37 15.21h0M524.13 15.26h0M524.89 15.31h0M525.64 15.37h0M526.40 15.43h0M527.16 15.48h0M527.91 15.54h0M528.67 15.61h0M529.43 15.67h0M530.18 15.73h0M530.94 15.80h0M531.70 15.87h0M532.45 15.94h0M533.21 16.01h0M533.97 16.09h0M534.72 16.17h0M535.48 16.24h0M536.24 16.33h0M537.00 16.41h0M537.75 16.50h0M538.51 16.58h0M539.27 16.68h0M540.02 16.77h0M540.78 16.87h0M541.54 16.96h0M542.29 17.07h0M543.05 17.17h0M543.81 17.28h0M544.56 17.39h0M545.32 17.50h0M546.08 17.62h0M546.83 17.74h0M547.59 17.86h0M548.35 17.98h0M549.10 18.11h0M549.86 18.24h0M550.62 18.38h0M551.37 18.52h0M552.13 18.66h0M552.89 18.81h0M553.64 18.96h0M554.40 19.11h0M555.16 19.27h0M555.91 19.43h0M556.67 19.59h0M557.43 19.76h0M558.18 19.94h0M558.94 20.11h0M559.70 20.29h0M560.45 20.48h0M561.21 20.67h0M561.97 20.86h0M562.72 21.06h0M563.48 21.26h0M564.24 21.47h0M564.99 21.68h0M565.75 21.90h0M566.51 22.12h0M567.26 22.34h0M568.02 22.57h0M568.78 22.81h0M569.53 23.05h0M570.29 23.29h0M571.05 23.54h0M571.80 23.80h0M572.56 24.06h0M573.32 24.33h0M574.07 24.60h0M574.83 24.87h0M575.59 25.15h0M576.34 25.44h0M577.10 25.73h0M577.86 26.03h0M578.61 26.33h0M579.37 26.64h0M580.13 26.96h0M580.88 27.28h0M581.64 27.61h0M582.40 27.94h0M583.15 28.28h0M583.91 28.62h0M584.67 28.97h0M585.42 29.33h0M586.18 29.69h0M586.94 30.06h0M587.69 30.44h0M588.45 30.82h0M589.21 31.21h0M589.96 31.60h0M590.72 32.01h0M591.48 32.41h0M592.23 32.83h0M592.99 33.25h0M593.75 33.68h0M594.50 34.12h0M595.26 34.56h0M596.02 35.01h0M596.77 35.46h0M597.53 35.93h0M598.29 36.40h0M599.04 36.88h0M599.80 37.36h0M600.56 37.86h0M601.31 38.36h0M602.07 38.86h0M602.83 39.38h0M603.59 39.90h0M604.34 40.43h0M605.10 40.97h0M605.86 41.51h0M606.61 42.07h0M607.37 42.63h0M608.13 43.19h0M608.88 43.77h0M609.64 44.35h0M610.40 44.94h0M611.15 45.54h0M611.91 46.15h0M612.67 46.76h0M613.42 47.39h0M614.18 48.02h0M614.94 48.65h0M615.69 49.30h0M616.45 49.95h0M617.21 50.62h0M617.96 51.28h0M618.72 51.96h0M619.48 52.65h0M620.23 53.34h0M620.99 54.05h0M621.75 54.76h0M622.50 55.48h0M623.26 56.20h0M624.02 56.94h0M624.77 57.68h0M625.53 58.43h0M626.29 59.19h0M627.04 59.96h0M627.80 60.74h0M628.56 61.53h0M629.31 62.32h0M630.07 63.12h0M630.83 63.93h0M631.58 64.75h0M632.34 65.57h0M633.10 66.40h0M633.85 67.23h0M634.61 68.07h0M635.37 68.91h0M636.12 69.76h0M636.88 70.60h0M637.64 71.46h0M638.39 72.31h0M639.15 73.17h0M639.91 74.02h0M640.66 74.88h0M641.42 75.74h0M642.18 76.60h0M642.93 77.46h0M643.69 78.31h0M644.45 79.17h0M645.20 80.02h0M645.96 80.87h0M646.72 81.72h0M647.47 82.56h0M648.23 83.40h0M648.99 84.23h0M649.74 85.06h0M650.50 85.89h0M651.26 86.70h0M652.01 87.51h0M652.77 88.32h0M653.53 89.11h0M654.28 89.90h0" fill="none" stroke="#9467bd" stroke-width="2.20" stroke-linecap="round"/>
</g>
<rect x="495.50" y="1.50" width="167.00" height="108.00" fill="none" stroke="#7a7a7a" stroke-width="1"/>
<line x1="503.50" y1="109.50" x2="503.50" y2="111.50" stroke="#777" stroke-width="1"/>
<text x="503.00" y="117.90" text-anchor="middle" class="t">0.0000</text>
<line x1="528.50" y1="109.50" x2="528.50" y2="111.50" stroke="#777" stroke-width="1"/>
<text x="528.27" y="117.90" text-anchor="middle" class="t">0.0005</text>
<line x1="554.50" y1="109.50" x2="554.50" y2="111.50" stroke="#777" stroke-width="1"/>
<text x="553.53" y="117.90" text-anchor="middle" class="t">0.0010</text>
<line x1="579.50" y1="109.50" x2="579.50" y2="111.50" stroke="#777" stroke-width="1"/>
<text x="578.80" y="117.90" text-anchor="middle" class="t">0.0015</text>
<line x1="604.50" y1="109.50" x2="604.50" y2="111.50" stroke="#777" stroke-width="1"/>
<text x="604.07" y="117.90" text-anchor="middle" class="t">0.0020</text>
<line x1="630.50" y1="109.50" x2="630.50" y2="111.50" stroke="#777" stroke-width="1"/>
<text x="629.33" y="117.90" text-anchor="middle" class="t">0.0025</text>
<line x1="655.50" y1="109.50" x2="655.50" y2="111.50" stroke="#777" stroke-width="1"/>
<text x="654.60" y="117.90" text-anchor="middle" class="t">0.0030</text>
<line x1="493.50" y1="9.50" x2="495.50" y2="9.50" stroke="#777" stroke-width="1"/>
<text x="491.30" y="11.85" text-anchor="end" class="t">15</text>
<line x1="493.50" y1="22.50" x2="495.50" y2="22.50" stroke="#777" stroke-width="1"/>
<text x="491.30" y="24.25" text-anchor="end" class="t">10</text>
<line x1="493.50" y1="34.50" x2="495.50" y2="34.50" stroke="#777" stroke-width="1"/>
<text x="491.30" y="36.45" text-anchor="end" class="t">5</text>
<line x1="493.50" y1="46.50" x2="495.50" y2="46.50" stroke="#777" stroke-width="1"/>
<text x="491.30" y="48.35" text-anchor="end" class="t">0</text>
<line x1="493.50" y1="58.50" x2="495.50" y2="58.50" stroke="#777" stroke-width="1"/>
<text x="491.30" y="60.15" text-anchor="end" class="t">−5</text>
<line x1="493.50" y1="70.50" x2="495.50" y2="70.50" stroke="#777" stroke-width="1"/>
<text x="491.30" y="72.55" text-anchor="end" class="t">−10</text>
<line x1="493.50" y1="82.50" x2="495.50" y2="82.50" stroke="#777" stroke-width="1"/>
<text x="491.30" y="84.75" text-anchor="end" class="t">−15</text>
<line x1="493.50" y1="94.50" x2="495.50" y2="94.50" stroke="#777" stroke-width="1"/>
<text x="491.30" y="96.65" text-anchor="end" class="t">−20</text>
<line x1="493.50" y1="107.50" x2="495.50" y2="107.50" stroke="#777" stroke-width="1"/>
<text x="491.30" y="109.05" text-anchor="end" class="t">−25</text>
<text x="578.40" y="124.70" text-anchor="middle" class="t">R [m]</text>
<text transform="translate(478.60 55.65) rotate(-90)" x="-10.7" class="t" textLength="21.4" lengthAdjust="spacingAndGlyphs">Error [%]</text>
<rect x="611.70" y="3.60" width="48.00" height="38.60" rx="1" fill="#fff" fill-opacity="0.8" stroke="#ddd" stroke-width="0.5"/>
<circle cx="618.80" cy="8.30" r="0.95" fill="#1f77b4"/>
<text x="627.60" y="10.25" class="t" textLength="29.60" lengthAdjust="spacingAndGlyphs">t = 0.27 Per</text>
<circle cx="618.80" cy="15.73" r="0.95" fill="#ff7f0e"/>
<text x="627.60" y="17.68" class="t" textLength="29.60" lengthAdjust="spacingAndGlyphs">t = 0.45 Per</text>
<circle cx="618.80" cy="23.16" r="0.95" fill="#2ca02c"/>
<text x="627.60" y="25.11" class="t" textLength="29.60" lengthAdjust="spacingAndGlyphs">t = 0.62 Per</text>
<circle cx="618.80" cy="30.59" r="0.95" fill="#7f7f7f"/>
<text x="627.60" y="32.54" class="t" textLength="29.60" lengthAdjust="spacingAndGlyphs">t = 0.79 Per</text>
<circle cx="618.80" cy="38.02" r="0.95" fill="#9467bd"/>
<text x="627.60" y="39.97" class="t" textLength="29.60" lengthAdjust="spacingAndGlyphs">t = 0.97 Per</text>
<g clip-path="url(#clipd)">
<path d="M34.40 293.55h0M37.46 293.59h0M40.52 293.56h0M43.58 293.43h0M46.64 293.23h0M49.70 292.94h0M52.76 292.57h0M55.82 292.11h0M58.88 291.57h0M61.94 290.96h0M65.00 290.25h0M68.06 289.47h0M71.12 288.61h0M74.18 287.66h0M77.24 286.63h0M80.30 285.52h0M83.36 284.33h0M86.42 283.06h0M89.48 281.71h0M92.54 280.28h0M95.60 278.77h0M98.66 277.18h0M101.72 275.50h0M104.78 273.75h0M107.84 271.92h0M110.90 270.01h0M113.96 268.02h0M117.02 265.95h0M120.08 263.81h0M123.14 261.58h0M126.20 259.28h0M129.26 256.90h0M132.32 254.44h0M135.38 251.91h0M138.44 249.29h0M141.50 246.61h0M144.56 243.85h0M147.62 241.01h0M150.68 238.10h0M153.74 235.12h0M156.80 232.06h0M159.86 228.94h0M162.92 225.74h0M165.98 222.47h0M169.04 219.13h0M172.10 215.72h0M175.16 212.24h0M178.22 208.69h0M181.28 205.07h0M184.34 201.38h0" fill="none" stroke="#1f77b4" stroke-width="2.20" stroke-linecap="round"/>
<path d="M34.40 196.73h0M37.46 196.53h0M40.52 196.61h0M43.58 196.97h0M46.64 197.59h0M49.70 198.45h0M52.76 199.54h0M55.82 200.85h0M58.88 202.37h0M61.94 204.08h0M65.00 205.97h0M68.06 208.02h0M71.12 210.23h0M74.18 212.58h0M77.24 215.05h0M80.30 217.63h0M83.36 220.31h0M86.42 223.08h0M89.48 225.92h0M92.54 228.83h0M95.60 231.77h0M98.66 234.75h0M101.72 237.75h0M104.78 240.76h0M107.84 243.76h0M110.90 246.74h0M113.96 249.69h0M117.02 252.58h0M120.08 255.40h0M123.14 258.11h0M126.20 260.68h0M129.26 263.09h0M132.32 265.30h0M135.38 267.28h0M138.44 269.00h0M141.50 270.44h0M144.56 271.55h0M147.62 272.32h0M150.68 272.72h0M153.74 272.70h0M156.80 272.24h0M159.86 271.31h0M162.92 269.86h0M165.98 267.86h0M169.04 265.29h0M172.10 262.10h0M175.16 258.25h0M178.22 253.73h0M181.28 248.48h0M184.34 242.48h0" fill="none" stroke="#ff7f0e" stroke-width="2.20" stroke-linecap="round"/>
<path d="M34.40 265.36h0M37.46 265.26h0M40.52 265.15h0M43.58 265.02h0M46.64 264.88h0M49.70 264.73h0M52.76 264.57h0M55.82 264.39h0M58.88 264.19h0M61.94 263.97h0M65.00 263.73h0M68.06 263.47h0M71.12 263.19h0M74.18 262.88h0M77.24 262.55h0M80.30 262.19h0M83.36 261.80h0M86.42 261.38h0M89.48 260.93h0M92.54 260.44h0M95.60 259.92h0M98.66 259.37h0M101.72 258.77h0M104.78 258.14h0M107.84 257.47h0M110.90 256.76h0M113.96 256.00h0M117.02 255.21h0M120.08 254.36h0M123.14 253.47h0M126.20 252.53h0M129.26 251.53h0M132.32 250.48h0M135.38 249.37h0M138.44 248.20h0M141.50 246.96h0M144.56 245.65h0M147.62 244.26h0M150.68 242.80h0M153.74 241.25h0M156.80 239.61h0M159.86 237.89h0M162.92 236.07h0M165.98 234.16h0M169.04 232.14h0M172.10 230.02h0M175.16 227.79h0M178.22 225.45h0M181.28 222.99h0M184.34 220.41h0" fill="none" stroke="#2ca02c" stroke-width="2.20" stroke-linecap="round"/>
<path d="M34.40 271.83h0M37.46 271.92h0M40.52 271.94h0M43.58 271.91h0M46.64 271.81h0M49.70 271.66h0M52.76 271.44h0M55.82 271.17h0M58.88 270.84h0M61.94 270.46h0M65.00 270.02h0M68.06 269.53h0M71.12 268.98h0M74.18 268.39h0M77.24 267.74h0M80.30 267.04h0M83.36 266.30h0M86.42 265.50h0M89.48 264.66h0M92.54 263.78h0M95.60 262.84h0M98.66 261.87h0M101.72 260.85h0M104.78 259.79h0M107.84 258.69h0M110.90 257.55h0M113.96 256.37h0M117.02 255.15h0M120.08 253.89h0M123.14 252.60h0M126.20 251.27h0M129.26 249.90h0M132.32 248.50h0M135.38 247.04h0M138.44 245.54h0M141.50 243.98h0M144.56 242.37h0M147.62 240.70h0M150.68 238.96h0M153.74 237.16h0M156.80 235.29h0M159.86 233.36h0M162.92 231.36h0M165.98 229.31h0M169.04 227.19h0M172.10 225.03h0M175.16 222.81h0M178.22 220.54h0M181.28 218.24h0M184.34 215.89h0" fill="none" stroke="#7f7f7f" stroke-width="2.20" stroke-linecap="round"/>
<path d="M34.40 237.37h0M37.46 237.27h0M40.52 237.28h0M43.58 237.39h0M46.64 237.61h0M49.70 237.92h0M52.76 238.33h0M55.82 238.82h0M58.88 239.38h0M61.94 240.03h0M65.00 240.74h0M68.06 241.51h0M71.12 242.35h0M74.18 243.23h0M77.24 244.17h0M80.30 245.14h0M83.36 246.15h0M86.42 247.19h0M89.48 248.26h0M92.54 249.35h0M95.60 250.45h0M98.66 251.56h0M101.72 252.68h0M104.78 253.80h0M107.84 254.90h0M110.90 256.00h0M113.96 257.08h0M117.02 258.12h0M120.08 259.09h0M123.14 259.99h0M126.20 260.78h0M129.26 261.45h0M132.32 261.97h0M135.38 262.32h0M138.44 262.47h0M141.50 262.42h0M144.56 262.13h0M147.62 261.58h0M150.68 260.75h0M153.74 259.63h0M156.80 258.18h0M159.86 256.38h0M162.92 254.23h0M165.98 251.68h0M169.04 248.72h0M172.10 245.33h0M175.16 241.49h0M178.22 237.17h0M181.28 232.35h0M184.34 227.02h0" fill="none" stroke="#9467bd" stroke-width="2.20" stroke-linecap="round"/>
</g>
<rect x="26.50" y="191.50" width="165.00" height="107.00" fill="none" stroke="#7a7a7a" stroke-width="1"/>
<line x1="34.50" y1="298.50" x2="34.50" y2="300.50" stroke="#777" stroke-width="1"/>
<text x="33.70" y="305.90" text-anchor="middle" class="t">0.0000</text>
<line x1="59.50" y1="298.50" x2="59.50" y2="300.50" stroke="#777" stroke-width="1"/>
<text x="59.20" y="305.90" text-anchor="middle" class="t">0.0005</text>
<line x1="85.50" y1="298.50" x2="85.50" y2="300.50" stroke="#777" stroke-width="1"/>
<text x="84.70" y="305.90" text-anchor="middle" class="t">0.0010</text>
<line x1="110.50" y1="298.50" x2="110.50" y2="300.50" stroke="#777" stroke-width="1"/>
<text x="110.20" y="305.90" text-anchor="middle" class="t">0.0015</text>
<line x1="136.50" y1="298.50" x2="136.50" y2="300.50" stroke="#777" stroke-width="1"/>
<text x="135.70" y="305.90" text-anchor="middle" class="t">0.0020</text>
<line x1="161.50" y1="298.50" x2="161.50" y2="300.50" stroke="#777" stroke-width="1"/>
<text x="161.20" y="305.90" text-anchor="middle" class="t">0.0025</text>
<line x1="187.50" y1="298.50" x2="187.50" y2="300.50" stroke="#777" stroke-width="1"/>
<text x="186.70" y="305.90" text-anchor="middle" class="t">0.0030</text>
<line x1="24.50" y1="201.50" x2="26.50" y2="201.50" stroke="#777" stroke-width="1"/>
<text x="21.80" y="203.05" text-anchor="end" class="t">10</text>
<line x1="24.50" y1="221.50" x2="26.50" y2="221.50" stroke="#777" stroke-width="1"/>
<text x="21.80" y="223.75" text-anchor="end" class="t">5</text>
<line x1="24.50" y1="242.50" x2="26.50" y2="242.50" stroke="#777" stroke-width="1"/>
<text x="21.80" y="244.45" text-anchor="end" class="t">0</text>
<line x1="24.50" y1="263.50" x2="26.50" y2="263.50" stroke="#777" stroke-width="1"/>
<text x="21.80" y="265.15" text-anchor="end" class="t">−5</text>
<line x1="24.50" y1="283.50" x2="26.50" y2="283.50" stroke="#777" stroke-width="1"/>
<text x="21.80" y="285.85" text-anchor="end" class="t">−10</text>
<text x="108.20" y="312.70" text-anchor="middle" class="t">R [m]</text>
<text transform="translate(9.10 244.60) rotate(-90)" x="-10.7" class="t" textLength="21.4" lengthAdjust="spacingAndGlyphs">Error [%]</text>
<rect x="85.20" y="193.50" width="48.60" height="37.70" rx="1" fill="#fff" fill-opacity="0.8" stroke="#ddd" stroke-width="0.5"/>
<circle cx="92.30" cy="198.20" r="0.95" fill="#1f77b4"/>
<text x="101.10" y="200.15" class="t" textLength="29.60" lengthAdjust="spacingAndGlyphs">t = 0.27 Per</text>
<circle cx="92.30" cy="205.63" r="0.95" fill="#ff7f0e"/>
<text x="101.10" y="207.58" class="t" textLength="29.60" lengthAdjust="spacingAndGlyphs">t = 0.45 Per</text>
<circle cx="92.30" cy="213.06" r="0.95" fill="#2ca02c"/>
<text x="101.10" y="215.01" class="t" textLength="29.60" lengthAdjust="spacingAndGlyphs">t = 0.62 Per</text>
<circle cx="92.30" cy="220.49" r="0.95" fill="#7f7f7f"/>
<text x="101.10" y="222.44" class="t" textLength="29.60" lengthAdjust="spacingAndGlyphs">t = 0.79 Per</text>
<circle cx="92.30" cy="227.92" r="0.95" fill="#9467bd"/>
<text x="101.10" y="229.87" class="t" textLength="29.60" lengthAdjust="spacingAndGlyphs">t = 0.97 Per</text>
<g clip-path="url(#clipe)">
<path d="M268.90 268.49h0M270.43 268.52h0M271.96 268.55h0M273.49 268.57h0M275.02 268.58h0M276.55 268.59h0M278.07 268.59h0M279.60 268.58h0M281.13 268.56h0M282.66 268.54h0M284.19 268.51h0M285.72 268.48h0M287.25 268.44h0M288.78 268.39h0M290.31 268.33h0M291.84 268.27h0M293.37 268.19h0M294.89 268.12h0M296.42 268.03h0M297.95 267.94h0M299.48 267.83h0M301.01 267.73h0M302.54 267.61h0M304.07 267.49h0M305.60 267.35h0M307.13 267.22h0M308.66 267.07h0M310.19 266.91h0M311.71 266.75h0M313.24 266.58h0M314.77 266.40h0M316.30 266.21h0M317.83 266.02h0M319.36 265.81h0M320.89 265.60h0M322.42 265.38h0M323.95 265.16h0M325.48 264.92h0M327.01 264.67h0M328.53 264.42h0M330.06 264.16h0M331.59 263.89h0M333.12 263.61h0M334.65 263.32h0M336.18 263.02h0M337.71 262.72h0M339.24 262.40h0M340.77 262.08h0M342.30 261.75h0M343.82 261.41h0M345.35 261.06h0M346.88 260.70h0M348.41 260.33h0M349.94 259.95h0M351.47 259.56h0M353.00 259.17h0M354.53 258.76h0M356.06 258.35h0M357.59 257.92h0M359.12 257.49h0M360.64 257.04h0M362.17 256.59h0M363.70 256.13h0M365.23 255.66h0M366.76 255.17h0M368.29 254.68h0M369.82 254.18h0M371.35 253.67h0M372.88 253.14h0M374.41 252.61h0M375.94 252.07h0M377.46 251.52h0M378.99 250.95h0M380.52 250.38h0M382.05 249.80h0M383.58 249.20h0M385.11 248.60h0M386.64 247.98h0M388.17 247.36h0M389.70 246.72h0M391.23 246.08h0M392.76 245.42h0M394.28 244.75h0M395.81 244.07h0M397.34 243.39h0M398.87 242.68h0M400.40 241.97h0M401.93 241.25h0M403.46 240.52h0M404.99 239.77h0M406.52 239.02h0M408.05 238.25h0M409.58 237.47h0M411.10 236.68h0M412.63 235.88h0M414.16 235.07h0M415.69 234.25h0M417.22 233.41h0M418.75 232.57h0M420.28 231.71h0" fill="none" stroke="#1f77b4" stroke-width="2.20" stroke-linecap="round"/>
<path d="M268.90 195.94h0M270.43 195.83h0M271.96 195.77h0M273.49 195.76h0M275.02 195.80h0M276.55 195.88h0M278.07 196.00h0M279.60 196.16h0M281.13 196.37h0M282.66 196.61h0M284.19 196.90h0M285.72 197.22h0M287.25 197.58h0M288.78 197.97h0M290.31 198.40h0M291.84 198.86h0M293.37 199.36h0M294.89 199.89h0M296.42 200.45h0M297.95 201.04h0M299.48 201.65h0M301.01 202.30h0M302.54 202.97h0M304.07 203.67h0M305.60 204.39h0M307.13 205.14h0M308.66 205.91h0M310.19 206.70h0M311.71 207.51h0M313.24 208.34h0M314.77 209.19h0M316.30 210.05h0M317.83 210.94h0M319.36 211.83h0M320.89 212.75h0M322.42 213.67h0M323.95 214.61h0M325.48 215.56h0M327.01 216.52h0M328.53 217.49h0M330.06 218.48h0M331.59 219.49h0M333.12 220.51h0M334.65 221.56h0M336.18 222.64h0M337.71 223.75h0M339.24 224.88h0M340.77 226.06h0M342.30 227.27h0M343.82 228.51h0M345.35 229.78h0M346.88 231.08h0M348.41 232.39h0M349.94 233.72h0M351.47 235.05h0M353.00 236.38h0M354.53 237.71h0M356.06 239.03h0M357.59 240.32h0M359.12 241.61h0M360.64 242.87h0M362.17 244.13h0M363.70 245.39h0M365.23 246.64h0M366.76 247.90h0M368.29 249.16h0M369.82 250.44h0M371.35 251.74h0M372.88 253.05h0M374.41 254.40h0M375.94 255.76h0M377.46 257.15h0M378.99 258.56h0M380.52 259.99h0M382.05 261.42h0M383.58 262.87h0M385.11 264.33h0M386.64 265.79h0M388.17 267.25h0M389.70 268.71h0M391.23 270.17h0M392.76 271.62h0M394.28 273.06h0M395.81 274.49h0M397.34 275.91h0M398.87 277.31h0M400.40 278.68h0M401.93 280.04h0M403.46 281.36h0M404.99 282.66h0M406.52 283.93h0M408.05 285.17h0M409.58 286.37h0M411.10 287.55h0M412.63 288.70h0M414.16 289.82h0M415.69 290.92h0M417.22 292.01h0M418.75 293.08h0M420.28 294.14h0" fill="none" stroke="#ff7f0e" stroke-width="2.20" stroke-linecap="round"/>
<path d="M268.90 238.00h0M270.43 237.97h0M271.96 237.95h0M273.49 237.93h0M275.02 237.92h0M276.55 237.92h0M278.07 237.92h0M279.60 237.93h0M281.13 237.95h0M282.66 237.98h0M284.19 238.01h0M285.72 238.05h0M287.25 238.10h0M288.78 238.16h0M290.31 238.22h0M291.84 238.29h0M293.37 238.36h0M294.89 238.44h0M296.42 238.53h0M297.95 238.63h0M299.48 238.73h0M301.01 238.84h0M302.54 238.96h0M304.07 239.08h0M305.60 239.21h0M307.13 239.34h0M308.66 239.48h0M310.19 239.63h0M311.71 239.79h0M313.24 239.95h0M314.77 240.11h0M316.30 240.29h0M317.83 240.47h0M319.36 240.65h0M320.89 240.84h0M322.42 241.04h0M323.95 241.25h0M325.48 241.46h0M327.01 241.67h0M328.53 241.89h0M330.06 242.12h0M331.59 242.35h0M333.12 242.59h0M334.65 242.84h0M336.18 243.09h0M337.71 243.34h0M339.24 243.60h0M340.77 243.87h0M342.30 244.14h0M343.82 244.42h0M345.35 244.70h0M346.88 244.99h0M348.41 245.29h0M349.94 245.59h0M351.47 245.89h0M353.00 246.20h0M354.53 246.52h0M356.06 246.84h0M357.59 247.16h0M359.12 247.49h0M360.64 247.83h0M362.17 248.17h0M363.70 248.51h0M365.23 248.86h0M366.76 249.22h0M368.29 249.58h0M369.82 249.94h0M371.35 250.31h0M372.88 250.68h0M374.41 251.06h0M375.94 251.44h0M377.46 251.83h0M378.99 252.22h0M380.52 252.62h0M382.05 253.02h0M383.58 253.42h0M385.11 253.83h0M386.64 254.25h0M388.17 254.67h0M389.70 255.09h0M391.23 255.51h0M392.76 255.94h0M394.28 256.38h0M395.81 256.82h0M397.34 257.26h0M398.87 257.70h0M400.40 258.15h0M401.93 258.61h0M403.46 259.07h0M404.99 259.53h0M406.52 259.99h0M408.05 260.46h0M409.58 260.93h0M411.10 261.41h0M412.63 261.89h0M414.16 262.37h0M415.69 262.86h0M417.22 263.35h0M418.75 263.84h0M420.28 264.34h0" fill="none" stroke="#2ca02c" stroke-width="2.20" stroke-linecap="round"/>
<path d="M268.90 245.40h0M270.43 245.34h0M271.96 245.30h0M273.49 245.26h0M275.02 245.24h0M276.55 245.23h0M278.07 245.23h0M279.60 245.25h0M281.13 245.27h0M282.66 245.30h0M284.19 245.34h0M285.72 245.39h0M287.25 245.45h0M288.78 245.52h0M290.31 245.60h0M291.84 245.68h0M293.37 245.78h0M294.89 245.87h0M296.42 245.98h0M297.95 246.10h0M299.48 246.22h0M301.01 246.34h0M302.54 246.47h0M304.07 246.61h0M305.60 246.75h0M307.13 246.90h0M308.66 247.05h0M310.19 247.21h0M311.71 247.36h0M313.24 247.53h0M314.77 247.69h0M316.30 247.86h0M317.83 248.03h0M319.36 248.20h0M320.89 248.38h0M322.42 248.55h0M323.95 248.73h0M325.48 248.91h0M327.01 249.09h0M328.53 249.26h0M330.06 249.44h0M331.59 249.62h0M333.12 249.79h0M334.65 249.97h0M336.18 250.14h0M337.71 250.31h0M339.24 250.48h0M340.77 250.65h0M342.30 250.81h0M343.82 250.97h0M345.35 251.13h0M346.88 251.28h0M348.41 251.43h0M349.94 251.58h0M351.47 251.72h0M353.00 251.85h0M354.53 251.98h0M356.06 252.10h0M357.59 252.22h0M359.12 252.33h0M360.64 252.43h0M362.17 252.53h0M363.70 252.62h0M365.23 252.70h0M366.76 252.77h0M368.29 252.83h0M369.82 252.89h0M371.35 252.93h0M372.88 252.97h0M374.41 252.99h0M375.94 253.01h0M377.46 253.01h0M378.99 253.00h0M380.52 252.97h0M382.05 252.94h0M383.58 252.89h0M385.11 252.83h0M386.64 252.75h0M388.17 252.65h0M389.70 252.55h0M391.23 252.42h0M392.76 252.28h0M394.28 252.12h0M395.81 251.95h0M397.34 251.76h0M398.87 251.55h0M400.40 251.32h0M401.93 251.07h0M403.46 250.80h0M404.99 250.51h0M406.52 250.20h0M408.05 249.87h0M409.58 249.52h0M411.10 249.14h0M412.63 248.74h0M414.16 248.32h0M415.69 247.88h0M417.22 247.41h0M418.75 246.92h0M420.28 246.40h0" fill="none" stroke="#7f7f7f" stroke-width="2.20" stroke-linecap="round"/>
<path d="M268.90 219.46h0M270.43 219.38h0M271.96 219.30h0M273.49 219.24h0M275.02 219.20h0M276.55 219.17h0M278.07 219.16h0M279.60 219.17h0M281.13 219.19h0M282.66 219.22h0M284.19 219.27h0M285.72 219.34h0M287.25 219.43h0M288.78 219.53h0M290.31 219.64h0M291.84 219.78h0M293.37 219.92h0M294.89 220.09h0M296.42 220.27h0M297.95 220.47h0M299.48 220.69h0M301.01 220.92h0M302.54 221.17h0M304.07 221.43h0M305.60 221.72h0M307.13 222.02h0M308.66 222.33h0M310.19 222.67h0M311.71 223.02h0M313.24 223.39h0M314.77 223.78h0M316.30 224.18h0M317.83 224.60h0M319.36 225.04h0M320.89 225.50h0M322.42 225.97h0M323.95 226.47h0M325.48 226.98h0M327.01 227.51h0M328.53 228.05h0M330.06 228.62h0M331.59 229.20h0M333.12 229.80h0M334.65 230.42h0M336.18 231.06h0M337.71 231.72h0M339.24 232.39h0M340.77 233.09h0M342.30 233.80h0M343.82 234.53h0M345.35 235.28h0M346.88 236.05h0M348.41 236.84h0M349.94 237.65h0M351.47 238.47h0M353.00 239.32h0M354.53 240.18h0M356.06 241.07h0M357.59 241.97h0M359.12 242.90h0M360.64 243.84h0M362.17 244.79h0M363.70 245.76h0M365.23 246.75h0M366.76 247.75h0M368.29 248.75h0M369.82 249.77h0M371.35 250.79h0M372.88 251.83h0M374.41 252.86h0M375.94 253.91h0M377.46 254.95h0M378.99 255.99h0M380.52 257.04h0M382.05 258.08h0M383.58 259.13h0M385.11 260.16h0M386.64 261.20h0M388.17 262.22h0M389.70 263.24h0M391.23 264.25h0M392.76 265.25h0M394.28 266.24h0M395.81 267.21h0M397.34 268.17h0M398.87 269.11h0M400.40 270.04h0M401.93 270.94h0M403.46 271.83h0M404.99 272.70h0M406.52 273.54h0M408.05 274.36h0M409.58 275.15h0M411.10 275.92h0M412.63 276.66h0M414.16 277.37h0M415.69 278.05h0M417.22 278.70h0M418.75 279.32h0M420.28 279.90h0" fill="none" stroke="#9467bd" stroke-width="2.20" stroke-linecap="round"/>
</g>
<rect x="261.50" y="191.50" width="166.00" height="108.00" fill="none" stroke="#7a7a7a" stroke-width="1"/>
<line x1="268.50" y1="299.50" x2="268.50" y2="301.50" stroke="#777" stroke-width="1"/>
<text x="268.20" y="306.40" text-anchor="middle" class="t">0.0000</text>
<line x1="294.50" y1="299.50" x2="294.50" y2="301.50" stroke="#777" stroke-width="1"/>
<text x="293.60" y="306.40" text-anchor="middle" class="t">0.0005</text>
<line x1="319.50" y1="299.50" x2="319.50" y2="301.50" stroke="#777" stroke-width="1"/>
<text x="319.00" y="306.40" text-anchor="middle" class="t">0.0010</text>
<line x1="345.50" y1="299.50" x2="345.50" y2="301.50" stroke="#777" stroke-width="1"/>
<text x="344.40" y="306.40" text-anchor="middle" class="t">0.0015</text>
<line x1="370.50" y1="299.50" x2="370.50" y2="301.50" stroke="#777" stroke-width="1"/>
<text x="369.80" y="306.40" text-anchor="middle" class="t">0.0020</text>
<line x1="395.50" y1="299.50" x2="395.50" y2="301.50" stroke="#777" stroke-width="1"/>
<text x="395.20" y="306.40" text-anchor="middle" class="t">0.0025</text>
<line x1="421.50" y1="299.50" x2="421.50" y2="301.50" stroke="#777" stroke-width="1"/>
<text x="420.60" y="306.40" text-anchor="middle" class="t">0.0030</text>
<line x1="259.50" y1="192.50" x2="261.50" y2="192.50" stroke="#777" stroke-width="1"/>
<text x="256.90" y="194.95" text-anchor="end" class="t">15</text>
<line x1="259.50" y1="212.50" x2="261.50" y2="212.50" stroke="#777" stroke-width="1"/>
<text x="256.90" y="214.05" text-anchor="end" class="t">10</text>
<line x1="259.50" y1="230.50" x2="261.50" y2="230.50" stroke="#777" stroke-width="1"/>
<text x="256.90" y="232.95" text-anchor="end" class="t">5</text>
<line x1="259.50" y1="250.50" x2="261.50" y2="250.50" stroke="#777" stroke-width="1"/>
<text x="256.90" y="252.05" text-anchor="end" class="t">0</text>
<line x1="259.50" y1="268.50" x2="261.50" y2="268.50" stroke="#777" stroke-width="1"/>
<text x="256.90" y="270.85" text-anchor="end" class="t">−5</text>
<line x1="259.50" y1="288.50" x2="261.50" y2="288.50" stroke="#777" stroke-width="1"/>
<text x="256.90" y="289.95" text-anchor="end" class="t">−10</text>
<text x="343.70" y="313.20" text-anchor="middle" class="t">R [m]</text>
<text transform="translate(244.20 244.75) rotate(-90)" x="-10.7" class="t" textLength="21.4" lengthAdjust="spacingAndGlyphs">Error [%]</text>
<rect x="377.60" y="193.50" width="47.20" height="38.40" rx="1" fill="#fff" fill-opacity="0.8" stroke="#ddd" stroke-width="0.5"/>
<circle cx="384.70" cy="198.20" r="0.95" fill="#1f77b4"/>
<text x="393.50" y="200.15" class="t" textLength="29.60" lengthAdjust="spacingAndGlyphs">t = 0.27 Per</text>
<circle cx="384.70" cy="205.63" r="0.95" fill="#ff7f0e"/>
<text x="393.50" y="207.58" class="t" textLength="29.60" lengthAdjust="spacingAndGlyphs">t = 0.45 Per</text>
<circle cx="384.70" cy="213.06" r="0.95" fill="#2ca02c"/>
<text x="393.50" y="215.01" class="t" textLength="29.60" lengthAdjust="spacingAndGlyphs">t = 0.62 Per</text>
<circle cx="384.70" cy="220.49" r="0.95" fill="#7f7f7f"/>
<text x="393.50" y="222.44" class="t" textLength="29.60" lengthAdjust="spacingAndGlyphs">t = 0.79 Per</text>
<circle cx="384.70" cy="227.92" r="0.95" fill="#9467bd"/>
<text x="393.50" y="229.87" class="t" textLength="29.60" lengthAdjust="spacingAndGlyphs">t = 0.97 Per</text>
<g clip-path="url(#clipf)">
<path d="M503.70 239.50h0M504.46 239.48h0M505.21 239.47h0M505.97 239.46h0M506.73 239.45h0M507.48 239.44h0M508.24 239.43h0M509.00 239.42h0M509.75 239.41h0M510.51 239.41h0M511.27 239.40h0M512.02 239.40h0M512.78 239.40h0M513.54 239.40h0M514.29 239.40h0M515.05 239.40h0M515.81 239.40h0M516.56 239.40h0M517.32 239.40h0M518.08 239.41h0M518.83 239.41h0M519.59 239.42h0M520.35 239.42h0M521.10 239.43h0M521.86 239.44h0M522.62 239.45h0M523.37 239.45h0M524.13 239.46h0M524.89 239.47h0M525.64 239.48h0M526.40 239.50h0M527.16 239.51h0M527.91 239.52h0M528.67 239.53h0M529.43 239.55h0M530.18 239.56h0M530.94 239.57h0M531.70 239.59h0M532.45 239.60h0M533.21 239.62h0M533.97 239.63h0M534.72 239.65h0M535.48 239.67h0M536.24 239.68h0M537.00 239.70h0M537.75 239.72h0M538.51 239.73h0M539.27 239.75h0M540.02 239.77h0M540.78 239.79h0M541.54 239.80h0M542.29 239.82h0M543.05 239.84h0M543.81 239.86h0M544.56 239.88h0M545.32 239.89h0M546.08 239.91h0M546.83 239.93h0M547.59 239.95h0M548.35 239.97h0M549.10 239.98h0M549.86 240.00h0M550.62 240.02h0M551.37 240.04h0M552.13 240.06h0M552.89 240.07h0M553.64 240.09h0M554.40 240.11h0M555.16 240.12h0M555.91 240.14h0M556.67 240.15h0M557.43 240.17h0M558.18 240.18h0M558.94 240.20h0M559.70 240.21h0M560.45 240.23h0M561.21 240.24h0M561.97 240.25h0M562.72 240.27h0M563.48 240.28h0M564.24 240.29h0M564.99 240.30h0M565.75 240.31h0M566.51 240.32h0M567.26 240.33h0M568.02 240.34h0M568.78 240.35h0M569.53 240.35h0M570.29 240.36h0M571.05 240.36h0M571.80 240.37h0M572.56 240.37h0M573.32 240.38h0M574.07 240.38h0M574.83 240.38h0M575.59 240.38h0M576.34 240.38h0M577.10 240.38h0M577.86 240.38h0M578.61 240.38h0M579.37 240.37h0M580.13 240.37h0M580.88 240.36h0M581.64 240.35h0M582.40 240.35h0M583.15 240.34h0M583.91 240.33h0M584.67 240.31h0M585.42 240.30h0M586.18 240.29h0M586.94 240.27h0M587.69 240.26h0M588.45 240.24h0M589.21 240.22h0M589.96 240.20h0M590.72 240.18h0M591.48 240.16h0M592.23 240.13h0M592.99 240.11h0M593.75 240.08h0M594.50 240.05h0M595.26 240.03h0M596.02 239.99h0M596.77 239.96h0M597.53 239.93h0M598.29 239.89h0M599.04 239.86h0M599.80 239.82h0M600.56 239.78h0M601.31 239.74h0M602.07 239.69h0M602.83 239.65h0M603.59 239.60h0M604.34 239.55h0M605.10 239.50h0M605.86 239.45h0M606.61 239.40h0M607.37 239.34h0M608.13 239.28h0M608.88 239.22h0M609.64 239.16h0M610.40 239.10h0M611.15 239.04h0M611.91 238.97h0M612.67 238.90h0M613.42 238.83h0M614.18 238.76h0M614.94 238.68h0M615.69 238.61h0M616.45 238.53h0M617.21 238.45h0M617.96 238.37h0M618.72 238.28h0M619.48 238.19h0M620.23 238.10h0M620.99 238.01h0M621.75 237.92h0M622.50 237.82h0M623.26 237.73h0M624.02 237.63h0M624.77 237.52h0M625.53 237.42h0M626.29 237.31h0M627.04 237.20h0M627.80 237.09h0M628.56 236.97h0M629.31 236.86h0M630.07 236.74h0M630.83 236.62h0M631.58 236.49h0M632.34 236.37h0M633.10 236.24h0M633.85 236.10h0M634.61 235.97h0M635.37 235.83h0M636.12 235.69h0M636.88 235.55h0M637.64 235.41h0M638.39 235.26h0M639.15 235.11h0M639.91 234.96h0M640.66 234.80h0M641.42 234.64h0M642.18 234.48h0M642.93 234.32h0M643.69 234.15h0M644.45 233.98h0M645.20 233.81h0M645.96 233.63h0M646.72 233.45h0M647.47 233.27h0M648.23 233.08h0M648.99 232.90h0M649.74 232.71h0M650.50 232.51h0M651.26 232.32h0M652.01 232.12h0M652.77 231.91h0M653.53 231.71h0M654.28 231.50h0" fill="none" stroke="#1f77b4" stroke-width="2.20" stroke-linecap="round"/>
<path d="M503.70 195.56h0M504.46 195.61h0M505.21 195.66h0M505.97 195.71h0M506.73 195.77h0M507.48 195.83h0M508.24 195.88h0M509.00 195.95h0M509.75 196.01h0M510.51 196.07h0M511.27 196.14h0M512.02 196.21h0M512.78 196.28h0M513.54 196.35h0M514.29 196.43h0M515.05 196.50h0M515.81 196.58h0M516.56 196.66h0M517.32 196.75h0M518.08 196.83h0M518.83 196.92h0M519.59 197.01h0M520.35 197.11h0M521.10 197.20h0M521.86 197.30h0M522.62 197.40h0M523.37 197.50h0M524.13 197.61h0M524.89 197.72h0M525.64 197.83h0M526.40 197.94h0M527.16 198.06h0M527.91 198.17h0M528.67 198.30h0M529.43 198.42h0M530.18 198.55h0M530.94 198.68h0M531.70 198.81h0M532.45 198.94h0M533.21 199.08h0M533.97 199.22h0M534.72 199.37h0M535.48 199.52h0M536.24 199.67h0M537.00 199.82h0M537.75 199.98h0M538.51 200.13h0M539.27 200.30h0M540.02 200.46h0M540.78 200.63h0M541.54 200.81h0M542.29 200.98h0M543.05 201.16h0M543.81 201.34h0M544.56 201.53h0M545.32 201.72h0M546.08 201.91h0M546.83 202.11h0M547.59 202.31h0M548.35 202.51h0M549.10 202.72h0M549.86 202.93h0M550.62 203.14h0M551.37 203.36h0M552.13 203.58h0M552.89 203.81h0M553.64 204.03h0M554.40 204.27h0M555.16 204.50h0M555.91 204.74h0M556.67 204.99h0M557.43 205.24h0M558.18 205.49h0M558.94 205.75h0M559.70 206.01h0M560.45 206.27h0M561.21 206.54h0M561.97 206.81h0M562.72 207.09h0M563.48 207.37h0M564.24 207.65h0M564.99 207.94h0M565.75 208.24h0M566.51 208.53h0M567.26 208.84h0M568.02 209.14h0M568.78 209.45h0M569.53 209.77h0M570.29 210.09h0M571.05 210.41h0M571.80 210.74h0M572.56 211.08h0M573.32 211.41h0M574.07 211.76h0M574.83 212.10h0M575.59 212.46h0M576.34 212.81h0M577.10 213.17h0M577.86 213.54h0M578.61 213.91h0M579.37 214.29h0M580.13 214.67h0M580.88 215.05h0M581.64 215.45h0M582.40 215.84h0M583.15 216.24h0M583.91 216.65h0M584.67 217.06h0M585.42 217.47h0M586.18 217.90h0M586.94 218.32h0M587.69 218.76h0M588.45 219.20h0M589.21 219.64h0M589.96 220.09h0M590.72 220.55h0M591.48 221.02h0M592.23 221.49h0M592.99 221.98h0M593.75 222.46h0M594.50 222.96h0M595.26 223.47h0M596.02 223.98h0M596.77 224.50h0M597.53 225.03h0M598.29 225.57h0M599.04 226.12h0M599.80 226.68h0M600.56 227.25h0M601.31 227.83h0M602.07 228.42h0M602.83 229.02h0M603.59 229.62h0M604.34 230.24h0M605.10 230.87h0M605.86 231.51h0M606.61 232.16h0M607.37 232.81h0M608.13 233.48h0M608.88 234.15h0M609.64 234.84h0M610.40 235.53h0M611.15 236.23h0M611.91 236.95h0M612.67 237.67h0M613.42 238.40h0M614.18 239.14h0M614.94 239.89h0M615.69 240.65h0M616.45 241.42h0M617.21 242.21h0M617.96 243.00h0M618.72 243.80h0M619.48 244.62h0M620.23 245.45h0M620.99 246.29h0M621.75 247.14h0M622.50 248.01h0M623.26 248.89h0M624.02 249.78h0M624.77 250.68h0M625.53 251.60h0M626.29 252.53h0M627.04 253.47h0M627.80 254.42h0M628.56 255.38h0M629.31 256.35h0M630.07 257.34h0M630.83 258.34h0M631.58 259.35h0M632.34 260.36h0M633.10 261.39h0M633.85 262.43h0M634.61 263.48h0M635.37 264.54h0M636.12 265.61h0M636.88 266.69h0M637.64 267.78h0M638.39 268.88h0M639.15 269.99h0M639.91 271.11h0M640.66 272.23h0M641.42 273.37h0M642.18 274.51h0M642.93 275.66h0M643.69 276.82h0M644.45 277.98h0M645.20 279.16h0M645.96 280.34h0M646.72 281.52h0M647.47 282.72h0M648.23 283.91h0M648.99 285.12h0M649.74 286.33h0M650.50 287.55h0M651.26 288.77h0M652.01 290.00h0M652.77 291.23h0M653.53 292.47h0M654.28 293.71h0" fill="none" stroke="#ff7f0e" stroke-width="2.20" stroke-linecap="round"/>
<path d="M503.70 217.32h0M504.46 217.37h0M505.21 217.41h0M505.97 217.45h0M506.73 217.50h0M507.48 217.54h0M508.24 217.58h0M509.00 217.63h0M509.75 217.67h0M510.51 217.72h0M511.27 217.77h0M512.02 217.81h0M512.78 217.86h0M513.54 217.91h0M514.29 217.95h0M515.05 218.00h0M515.81 218.05h0M516.56 218.10h0M517.32 218.15h0M518.08 218.20h0M518.83 218.25h0M519.59 218.31h0M520.35 218.36h0M521.10 218.41h0M521.86 218.47h0M522.62 218.52h0M523.37 218.58h0M524.13 218.64h0M524.89 218.70h0M525.64 218.76h0M526.40 218.82h0M527.16 218.88h0M527.91 218.94h0M528.67 219.00h0M529.43 219.07h0M530.18 219.14h0M530.94 219.20h0M531.70 219.27h0M532.45 219.34h0M533.21 219.41h0M533.97 219.48h0M534.72 219.56h0M535.48 219.63h0M536.24 219.71h0M537.00 219.78h0M537.75 219.86h0M538.51 219.94h0M539.27 220.02h0M540.02 220.11h0M540.78 220.19h0M541.54 220.28h0M542.29 220.37h0M543.05 220.45h0M543.81 220.55h0M544.56 220.64h0M545.32 220.73h0M546.08 220.83h0M546.83 220.93h0M547.59 221.03h0M548.35 221.13h0M549.10 221.23h0M549.86 221.33h0M550.62 221.44h0M551.37 221.55h0M552.13 221.66h0M552.89 221.77h0M553.64 221.89h0M554.40 222.00h0M555.16 222.12h0M555.91 222.24h0M556.67 222.37h0M557.43 222.49h0M558.18 222.62h0M558.94 222.75h0M559.70 222.88h0M560.45 223.01h0M561.21 223.15h0M561.97 223.29h0M562.72 223.43h0M563.48 223.57h0M564.24 223.72h0M564.99 223.86h0M565.75 224.01h0M566.51 224.17h0M567.26 224.32h0M568.02 224.48h0M568.78 224.64h0M569.53 224.80h0M570.29 224.97h0M571.05 225.13h0M571.80 225.31h0M572.56 225.48h0M573.32 225.65h0M574.07 225.83h0M574.83 226.01h0M575.59 226.20h0M576.34 226.39h0M577.10 226.58h0M577.86 226.77h0M578.61 226.96h0M579.37 227.16h0M580.13 227.36h0M580.88 227.57h0M581.64 227.78h0M582.40 227.99h0M583.15 228.20h0M583.91 228.42h0M584.67 228.64h0M585.42 228.86h0M586.18 229.09h0M586.94 229.32h0M587.69 229.55h0M588.45 229.78h0M589.21 230.02h0M589.96 230.27h0M590.72 230.51h0M591.48 230.76h0M592.23 231.02h0M592.99 231.27h0M593.75 231.53h0M594.50 231.80h0M595.26 232.06h0M596.02 232.34h0M596.77 232.61h0M597.53 232.89h0M598.29 233.17h0M599.04 233.46h0M599.80 233.75h0M600.56 234.04h0M601.31 234.34h0M602.07 234.65h0M602.83 234.95h0M603.59 235.26h0M604.34 235.58h0M605.10 235.90h0M605.86 236.22h0M606.61 236.55h0M607.37 236.88h0M608.13 237.22h0M608.88 237.56h0M609.64 237.90h0M610.40 238.25h0M611.15 238.61h0M611.91 238.96h0M612.67 239.33h0M613.42 239.70h0M614.18 240.07h0M614.94 240.45h0M615.69 240.83h0M616.45 241.21h0M617.21 241.61h0M617.96 242.00h0M618.72 242.40h0M619.48 242.81h0M620.23 243.22h0M620.99 243.64h0M621.75 244.06h0M622.50 244.49h0M623.26 244.92h0M624.02 245.36h0M624.77 245.80h0M625.53 246.24h0M626.29 246.69h0M627.04 247.14h0M627.80 247.60h0M628.56 248.05h0M629.31 248.51h0M630.07 248.97h0M630.83 249.44h0M631.58 249.90h0M632.34 250.36h0M633.10 250.83h0M633.85 251.29h0M634.61 251.76h0M635.37 252.22h0M636.12 252.68h0M636.88 253.14h0M637.64 253.60h0M638.39 254.06h0M639.15 254.51h0M639.91 254.96h0M640.66 255.41h0M641.42 255.85h0M642.18 256.29h0M642.93 256.72h0M643.69 257.15h0M644.45 257.57h0M645.20 257.99h0M645.96 258.40h0M646.72 258.81h0M647.47 259.21h0M648.23 259.60h0M648.99 259.98h0M649.74 260.36h0M650.50 260.72h0M651.26 261.08h0M652.01 261.43h0M652.77 261.77h0M653.53 262.10h0M654.28 262.42h0" fill="none" stroke="#2ca02c" stroke-width="2.20" stroke-linecap="round"/>
<path d="M503.70 223.27h0M504.46 223.29h0M505.21 223.31h0M505.97 223.34h0M506.73 223.37h0M507.48 223.40h0M508.24 223.44h0M509.00 223.47h0M509.75 223.51h0M510.51 223.55h0M511.27 223.60h0M512.02 223.64h0M512.78 223.69h0M513.54 223.74h0M514.29 223.79h0M515.05 223.84h0M515.81 223.90h0M516.56 223.96h0M517.32 224.02h0M518.08 224.08h0M518.83 224.14h0M519.59 224.21h0M520.35 224.28h0M521.10 224.35h0M521.86 224.42h0M522.62 224.49h0M523.37 224.57h0M524.13 224.64h0M524.89 224.72h0M525.64 224.80h0M526.40 224.88h0M527.16 224.97h0M527.91 225.05h0M528.67 225.14h0M529.43 225.23h0M530.18 225.32h0M530.94 225.41h0M531.70 225.51h0M532.45 225.60h0M533.21 225.70h0M533.97 225.80h0M534.72 225.90h0M535.48 226.00h0M536.24 226.11h0M537.00 226.21h0M537.75 226.32h0M538.51 226.43h0M539.27 226.54h0M540.02 226.65h0M540.78 226.76h0M541.54 226.87h0M542.29 226.99h0M543.05 227.11h0M543.81 227.22h0M544.56 227.34h0M545.32 227.46h0M546.08 227.59h0M546.83 227.71h0M547.59 227.83h0M548.35 227.96h0M549.10 228.09h0M549.86 228.21h0M550.62 228.34h0M551.37 228.47h0M552.13 228.61h0M552.89 228.74h0M553.64 228.87h0M554.40 229.01h0M555.16 229.14h0M555.91 229.28h0M556.67 229.42h0M557.43 229.56h0M558.18 229.70h0M558.94 229.84h0M559.70 229.98h0M560.45 230.12h0M561.21 230.27h0M561.97 230.41h0M562.72 230.56h0M563.48 230.70h0M564.24 230.85h0M564.99 231.00h0M565.75 231.15h0M566.51 231.30h0M567.26 231.45h0M568.02 231.60h0M568.78 231.75h0M569.53 231.90h0M570.29 232.06h0M571.05 232.21h0M571.80 232.36h0M572.56 232.52h0M573.32 232.68h0M574.07 232.83h0M574.83 232.99h0M575.59 233.15h0M576.34 233.30h0M577.10 233.46h0M577.86 233.62h0M578.61 233.78h0M579.37 233.94h0M580.13 234.10h0M580.88 234.26h0M581.64 234.42h0M582.40 234.59h0M583.15 234.75h0M583.91 234.91h0M584.67 235.07h0M585.42 235.24h0M586.18 235.40h0M586.94 235.56h0M587.69 235.73h0M588.45 235.89h0M589.21 236.06h0M589.96 236.22h0M590.72 236.39h0M591.48 236.55h0M592.23 236.72h0M592.99 236.88h0M593.75 237.05h0M594.50 237.21h0M595.26 237.38h0M596.02 237.54h0M596.77 237.71h0M597.53 237.87h0M598.29 238.03h0M599.04 238.20h0M599.80 238.36h0M600.56 238.52h0M601.31 238.68h0M602.07 238.85h0M602.83 239.01h0M603.59 239.16h0M604.34 239.32h0M605.10 239.48h0M605.86 239.64h0M606.61 239.79h0M607.37 239.94h0M608.13 240.10h0M608.88 240.25h0M609.64 240.39h0M610.40 240.54h0M611.15 240.69h0M611.91 240.83h0M612.67 240.97h0M613.42 241.11h0M614.18 241.25h0M614.94 241.39h0M615.69 241.52h0M616.45 241.65h0M617.21 241.78h0M617.96 241.91h0M618.72 242.03h0M619.48 242.15h0M620.23 242.27h0M620.99 242.39h0M621.75 242.50h0M622.50 242.61h0M623.26 242.72h0M624.02 242.83h0M624.77 242.93h0M625.53 243.03h0M626.29 243.12h0M627.04 243.21h0M627.80 243.30h0M628.56 243.38h0M629.31 243.46h0M630.07 243.54h0M630.83 243.61h0M631.58 243.68h0M632.34 243.74h0M633.10 243.80h0M633.85 243.85h0M634.61 243.90h0M635.37 243.95h0M636.12 243.99h0M636.88 244.02h0M637.64 244.05h0M638.39 244.08h0M639.15 244.10h0M639.91 244.11h0M640.66 244.12h0M641.42 244.12h0M642.18 244.12h0M642.93 244.11h0M643.69 244.09h0M644.45 244.07h0M645.20 244.04h0M645.96 244.01h0M646.72 243.96h0M647.47 243.92h0M648.23 243.86h0M648.99 243.80h0M649.74 243.73h0M650.50 243.66h0M651.26 243.57h0M652.01 243.48h0M652.77 243.38h0M653.53 243.28h0M654.28 243.17h0" fill="none" stroke="#7f7f7f" stroke-width="2.20" stroke-linecap="round"/>
<path d="M503.70 205.62h0M504.46 205.64h0M505.21 205.66h0M505.97 205.68h0M506.73 205.69h0M507.48 205.71h0M508.24 205.73h0M509.00 205.75h0M509.75 205.77h0M510.51 205.79h0M511.27 205.81h0M512.02 205.83h0M512.78 205.86h0M513.54 205.88h0M514.29 205.90h0M515.05 205.93h0M515.81 205.96h0M516.56 205.98h0M517.32 206.01h0M518.08 206.04h0M518.83 206.07h0M519.59 206.11h0M520.35 206.14h0M521.10 206.18h0M521.86 206.21h0M522.62 206.25h0M523.37 206.29h0M524.13 206.33h0M524.89 206.38h0M525.64 206.42h0M526.40 206.47h0M527.16 206.52h0M527.91 206.57h0M528.67 206.62h0M529.43 206.68h0M530.18 206.74h0M530.94 206.79h0M531.70 206.86h0M532.45 206.92h0M533.21 206.99h0M533.97 207.05h0M534.72 207.13h0M535.48 207.20h0M536.24 207.28h0M537.00 207.35h0M537.75 207.44h0M538.51 207.52h0M539.27 207.61h0M540.02 207.70h0M540.78 207.79h0M541.54 207.88h0M542.29 207.98h0M543.05 208.08h0M543.81 208.19h0M544.56 208.30h0M545.32 208.41h0M546.08 208.52h0M546.83 208.64h0M547.59 208.76h0M548.35 208.89h0M549.10 209.01h0M549.86 209.15h0M550.62 209.28h0M551.37 209.42h0M552.13 209.56h0M552.89 209.71h0M553.64 209.86h0M554.40 210.01h0M555.16 210.17h0M555.91 210.34h0M556.67 210.50h0M557.43 210.67h0M558.18 210.85h0M558.94 211.03h0M559.70 211.21h0M560.45 211.40h0M561.21 211.59h0M561.97 211.79h0M562.72 211.99h0M563.48 212.19h0M564.24 212.40h0M564.99 212.62h0M565.75 212.84h0M566.51 213.06h0M567.26 213.29h0M568.02 213.53h0M568.78 213.77h0M569.53 214.01h0M570.29 214.26h0M571.05 214.52h0M571.80 214.78h0M572.56 215.04h0M573.32 215.31h0M574.07 215.59h0M574.83 215.87h0M575.59 216.16h0M576.34 216.45h0M577.10 216.75h0M577.86 217.05h0M578.61 217.36h0M579.37 217.67h0M580.13 217.99h0M580.88 218.32h0M581.64 218.65h0M582.40 218.99h0M583.15 219.34h0M583.91 219.69h0M584.67 220.05h0M585.42 220.41h0M586.18 220.78h0M586.94 221.15h0M587.69 221.54h0M588.45 221.92h0M589.21 222.32h0M589.96 222.72h0M590.72 223.13h0M591.48 223.54h0M592.23 223.96h0M592.99 224.38h0M593.75 224.82h0M594.50 225.26h0M595.26 225.70h0M596.02 226.15h0M596.77 226.61h0M597.53 227.07h0M598.29 227.54h0M599.04 228.02h0M599.80 228.51h0M600.56 229.00h0M601.31 229.49h0M602.07 229.99h0M602.83 230.50h0M603.59 231.02h0M604.34 231.54h0M605.10 232.07h0M605.86 232.61h0M606.61 233.15h0M607.37 233.70h0M608.13 234.26h0M608.88 234.82h0M609.64 235.39h0M610.40 235.96h0M611.15 236.54h0M611.91 237.13h0M612.67 237.73h0M613.42 238.33h0M614.18 238.94h0M614.94 239.56h0M615.69 240.18h0M616.45 240.81h0M617.21 241.45h0M617.96 242.09h0M618.72 242.74h0M619.48 243.40h0M620.23 244.06h0M620.99 244.73h0M621.75 245.41h0M622.50 246.09h0M623.26 246.79h0M624.02 247.49h0M624.77 248.19h0M625.53 248.90h0M626.29 249.62h0M627.04 250.35h0M627.80 251.08h0M628.56 251.82h0M629.31 252.57h0M630.07 253.33h0M630.83 254.09h0M631.58 254.86h0M632.34 255.63h0M633.10 256.42h0M633.85 257.21h0M634.61 258.01h0M635.37 258.81h0M636.12 259.62h0M636.88 260.44h0M637.64 261.27h0M638.39 262.10h0M639.15 262.94h0M639.91 263.79h0M640.66 264.65h0M641.42 265.51h0M642.18 266.38h0M642.93 267.26h0M643.69 268.14h0M644.45 269.04h0M645.20 269.94h0M645.96 270.84h0M646.72 271.76h0M647.47 272.68h0M648.23 273.61h0M648.99 274.55h0M649.74 275.49h0M650.50 276.44h0M651.26 277.40h0M652.01 278.37h0M652.77 279.35h0M653.53 280.33h0M654.28 281.32h0" fill="none" stroke="#9467bd" stroke-width="2.20" stroke-linecap="round"/>
</g>
<rect x="495.50" y="190.50" width="167.00" height="109.00" fill="none" stroke="#7a7a7a" stroke-width="1"/>
<line x1="503.50" y1="299.50" x2="503.50" y2="301.50" stroke="#777" stroke-width="1"/>
<text x="503.00" y="306.70" text-anchor="middle" class="t">0.0000</text>
<line x1="528.50" y1="299.50" x2="528.50" y2="301.50" stroke="#777" stroke-width="1"/>
<text x="528.27" y="306.70" text-anchor="middle" class="t">0.0005</text>
<line x1="554.50" y1="299.50" x2="554.50" y2="301.50" stroke="#777" stroke-width="1"/>
<text x="553.53" y="306.70" text-anchor="middle" class="t">0.0010</text>
<line x1="579.50" y1="299.50" x2="579.50" y2="301.50" stroke="#777" stroke-width="1"/>
<text x="578.80" y="306.70" text-anchor="middle" class="t">0.0015</text>
<line x1="604.50" y1="299.50" x2="604.50" y2="301.50" stroke="#777" stroke-width="1"/>
<text x="604.07" y="306.70" text-anchor="middle" class="t">0.0020</text>
<line x1="630.50" y1="299.50" x2="630.50" y2="301.50" stroke="#777" stroke-width="1"/>
<text x="629.33" y="306.70" text-anchor="middle" class="t">0.0025</text>
<line x1="655.50" y1="299.50" x2="655.50" y2="301.50" stroke="#777" stroke-width="1"/>
<text x="654.60" y="306.70" text-anchor="middle" class="t">0.0030</text>
<line x1="493.50" y1="201.50" x2="495.50" y2="201.50" stroke="#777" stroke-width="1"/>
<text x="491.20" y="203.05" text-anchor="end" class="t">15</text>
<line x1="493.50" y1="213.50" x2="495.50" y2="213.50" stroke="#777" stroke-width="1"/>
<text x="491.20" y="215.25" text-anchor="end" class="t">10</text>
<line x1="493.50" y1="225.50" x2="495.50" y2="225.50" stroke="#777" stroke-width="1"/>
<text x="491.20" y="227.45" text-anchor="end" class="t">5</text>
<line x1="493.50" y1="237.50" x2="495.50" y2="237.50" stroke="#777" stroke-width="1"/>
<text x="491.20" y="239.35" text-anchor="end" class="t">0</text>
<line x1="493.50" y1="249.50" x2="495.50" y2="249.50" stroke="#777" stroke-width="1"/>
<text x="491.20" y="251.75" text-anchor="end" class="t">−5</text>
<line x1="493.50" y1="261.50" x2="495.50" y2="261.50" stroke="#777" stroke-width="1"/>
<text x="491.20" y="263.55" text-anchor="end" class="t">−10</text>
<line x1="493.50" y1="273.50" x2="495.50" y2="273.50" stroke="#777" stroke-width="1"/>
<text x="491.20" y="275.65" text-anchor="end" class="t">−15</text>
<line x1="493.50" y1="286.50" x2="495.50" y2="286.50" stroke="#777" stroke-width="1"/>
<text x="491.20" y="288.05" text-anchor="end" class="t">−20</text>
<line x1="493.50" y1="298.50" x2="495.50" y2="298.50" stroke="#777" stroke-width="1"/>
<text x="491.20" y="300.25" text-anchor="end" class="t">−25</text>
<text x="578.35" y="313.50" text-anchor="middle" class="t">R [m]</text>
<text transform="translate(478.50 244.50) rotate(-90)" x="-10.7" class="t" textLength="21.4" lengthAdjust="spacingAndGlyphs">Error [%]</text>
<rect x="497.60" y="257.50" width="47.60" height="38.50" rx="1" fill="#fff" fill-opacity="0.8" stroke="#ddd" stroke-width="0.5"/>
<circle cx="504.70" cy="262.20" r="0.95" fill="#1f77b4"/>
<text x="513.50" y="264.15" class="t" textLength="29.60" lengthAdjust="spacingAndGlyphs">t = 0.27 Per</text>
<circle cx="504.70" cy="269.63" r="0.95" fill="#ff7f0e"/>
<text x="513.50" y="271.58" class="t" textLength="29.60" lengthAdjust="spacingAndGlyphs">t = 0.45 Per</text>
<circle cx="504.70" cy="277.06" r="0.95" fill="#2ca02c"/>
<text x="513.50" y="279.01" class="t" textLength="29.60" lengthAdjust="spacingAndGlyphs">t = 0.62 Per</text>
<circle cx="504.70" cy="284.49" r="0.95" fill="#7f7f7f"/>
<text x="513.50" y="286.44" class="t" textLength="29.60" lengthAdjust="spacingAndGlyphs">t = 0.79 Per</text>
<circle cx="504.70" cy="291.92" r="0.95" fill="#9467bd"/>
<text x="513.50" y="293.87" class="t" textLength="29.60" lengthAdjust="spacingAndGlyphs">t = 0.97 Per</text>
<g clip-path="url(#clipg)">
<path d="M34.60 406.39h0M37.66 406.42h0M40.72 406.49h0M43.77 406.60h0M46.83 406.74h0M49.89 406.91h0M52.95 407.11h0M56.01 407.34h0M59.06 407.61h0M62.12 407.89h0M65.18 408.21h0M68.24 408.54h0M71.30 408.91h0M74.35 409.29h0M77.41 409.69h0M80.47 410.11h0M83.53 410.55h0M86.59 411.01h0M89.64 411.48h0M92.70 411.96h0M95.76 412.45h0M98.82 412.96h0M101.88 413.47h0M104.93 414.00h0M107.99 414.53h0M111.05 415.06h0M114.11 415.60h0M117.17 416.14h0M120.22 416.68h0M123.28 417.22h0M126.34 417.76h0M129.40 418.30h0M132.46 418.83h0M135.51 419.36h0M138.57 419.88h0M141.63 420.39h0M144.69 420.89h0M147.75 421.38h0M150.80 421.86h0M153.86 422.32h0M156.92 422.77h0M159.98 423.20h0M163.04 423.61h0M166.09 424.00h0M169.15 424.38h0M172.21 424.73h0M175.27 425.05h0M178.33 425.35h0M181.38 425.63h0M184.44 425.88h0" fill="none" stroke="#1f77b4" stroke-width="2.20" stroke-linecap="round"/>
<path d="M34.60 384.88h0M37.66 385.19h0M40.72 385.44h0M43.77 385.65h0M46.83 385.81h0M49.89 385.95h0M52.95 386.06h0M56.01 386.15h0M59.06 386.24h0M62.12 386.32h0M65.18 386.41h0M68.24 386.51h0M71.30 386.63h0M74.35 386.78h0M77.41 386.96h0M80.47 387.19h0M83.53 387.47h0M86.59 387.81h0M89.64 388.21h0M92.70 388.69h0M95.76 389.25h0M98.82 389.89h0M101.88 390.63h0M104.93 391.47h0M107.99 392.43h0M111.05 393.50h0M114.11 394.70h0M117.17 396.03h0M120.22 397.50h0M123.28 399.12h0M126.34 400.90h0M129.40 402.84h0M132.46 404.95h0M135.51 407.24h0M138.57 409.73h0M141.63 412.43h0M144.69 415.36h0M147.75 418.54h0M150.80 421.98h0M153.86 425.71h0M156.92 429.73h0M159.98 434.08h0M163.04 438.76h0M166.09 443.79h0M169.15 449.19h0M172.21 454.98h0M175.27 461.17h0M178.33 467.78h0M181.38 474.83h0M184.44 482.34h0" fill="none" stroke="#ff7f0e" stroke-width="2.20" stroke-linecap="round"/>
<path d="M34.60 399.76h0M37.66 399.88h0M40.72 400.02h0M43.77 400.18h0M46.83 400.36h0M49.89 400.56h0M52.95 400.78h0M56.01 401.01h0M59.06 401.27h0M62.12 401.55h0M65.18 401.85h0M68.24 402.17h0M71.30 402.52h0M74.35 402.89h0M77.41 403.29h0M80.47 403.71h0M83.53 404.16h0M86.59 404.64h0M89.64 405.14h0M92.70 405.67h0M95.76 406.23h0M98.82 406.82h0M101.88 407.45h0M104.93 408.10h0M107.99 408.78h0M111.05 409.50h0M114.11 410.24h0M117.17 411.03h0M120.22 411.84h0M123.28 412.70h0M126.34 413.58h0M129.40 414.51h0M132.46 415.47h0M135.51 416.47h0M138.57 417.51h0M141.63 418.58h0M144.69 419.70h0M147.75 420.86h0M150.80 422.05h0M153.86 423.29h0M156.92 424.58h0M159.98 425.90h0M163.04 427.27h0M166.09 428.68h0M169.15 430.14h0M172.21 431.65h0M175.27 433.20h0M178.33 434.80h0M181.38 436.44h0M184.44 438.14h0" fill="none" stroke="#2ca02c" stroke-width="2.20" stroke-linecap="round"/>
<path d="M34.60 406.37h0M37.66 406.30h0M40.72 406.28h0M43.77 406.31h0M46.83 406.39h0M49.89 406.51h0M52.95 406.67h0M56.01 406.87h0M59.06 407.11h0M62.12 407.39h0M65.18 407.70h0M68.24 408.03h0M71.30 408.40h0M74.35 408.80h0M77.41 409.22h0M80.47 409.66h0M83.53 410.13h0M86.59 410.61h0M89.64 411.11h0M92.70 411.62h0M95.76 412.15h0M98.82 412.69h0M101.88 413.23h0M104.93 413.78h0M107.99 414.34h0M111.05 414.89h0M114.11 415.45h0M117.17 416.01h0M120.22 416.56h0M123.28 417.10h0M126.34 417.64h0M129.40 418.16h0M132.46 418.68h0M135.51 419.18h0M138.57 419.66h0M141.63 420.12h0M144.69 420.56h0M147.75 420.98h0M150.80 421.37h0M153.86 421.74h0M156.92 422.08h0M159.98 422.38h0M163.04 422.66h0M166.09 422.89h0M169.15 423.09h0M172.21 423.25h0M175.27 423.37h0M178.33 423.44h0M181.38 423.47h0M184.44 423.45h0" fill="none" stroke="#7f7f7f" stroke-width="2.20" stroke-linecap="round"/>
<path d="M34.60 388.00h0M37.66 388.24h0M40.72 388.44h0M43.77 388.62h0M46.83 388.78h0M49.89 388.94h0M52.95 389.08h0M56.01 389.23h0M59.06 389.38h0M62.12 389.54h0M65.18 389.72h0M68.24 389.91h0M71.30 390.14h0M74.35 390.39h0M77.41 390.69h0M80.47 391.02h0M83.53 391.41h0M86.59 391.84h0M89.64 392.34h0M92.70 392.90h0M95.76 393.53h0M98.82 394.23h0M101.88 395.02h0M104.93 395.89h0M107.99 396.85h0M111.05 397.91h0M114.11 399.07h0M117.17 400.34h0M120.22 401.72h0M123.28 403.22h0M126.34 404.84h0M129.40 406.59h0M132.46 408.48h0M135.51 410.50h0M138.57 412.68h0M141.63 415.01h0M144.69 417.51h0M147.75 420.19h0M150.80 423.06h0M153.86 426.12h0M156.92 429.39h0M159.98 432.87h0M163.04 436.58h0M166.09 440.52h0M169.15 444.71h0M172.21 449.14h0M175.27 453.84h0M178.33 458.81h0M181.38 464.06h0M184.44 469.60h0" fill="none" stroke="#9467bd" stroke-width="2.20" stroke-linecap="round"/>
</g>
<rect x="26.50" y="380.50" width="165.00" height="108.00" fill="none" stroke="#7a7a7a" stroke-width="1"/>
<line x1="34.50" y1="488.50" x2="34.50" y2="490.50" stroke="#777" stroke-width="1"/>
<text x="33.90" y="495.70" text-anchor="middle" class="t">0.0000</text>
<line x1="60.50" y1="488.50" x2="60.50" y2="490.50" stroke="#777" stroke-width="1"/>
<text x="59.38" y="495.70" text-anchor="middle" class="t">0.0005</text>
<line x1="85.50" y1="488.50" x2="85.50" y2="490.50" stroke="#777" stroke-width="1"/>
<text x="84.87" y="495.70" text-anchor="middle" class="t">0.0010</text>
<line x1="111.50" y1="488.50" x2="111.50" y2="490.50" stroke="#777" stroke-width="1"/>
<text x="110.35" y="495.70" text-anchor="middle" class="t">0.0015</text>
<line x1="136.50" y1="488.50" x2="136.50" y2="490.50" stroke="#777" stroke-width="1"/>
<text x="135.83" y="495.70" text-anchor="middle" class="t">0.0020</text>
<line x1="162.50" y1="488.50" x2="162.50" y2="490.50" stroke="#777" stroke-width="1"/>
<text x="161.32" y="495.70" text-anchor="middle" class="t">0.0025</text>
<line x1="187.50" y1="488.50" x2="187.50" y2="490.50" stroke="#777" stroke-width="1"/>
<text x="186.80" y="495.70" text-anchor="middle" class="t">0.0030</text>
<line x1="24.50" y1="388.50" x2="26.50" y2="388.50" stroke="#777" stroke-width="1"/>
<text x="22.00" y="390.25" text-anchor="end" class="t">20</text>
<line x1="24.50" y1="402.50" x2="26.50" y2="402.50" stroke="#777" stroke-width="1"/>
<text x="22.00" y="404.85" text-anchor="end" class="t">10</text>
<line x1="24.50" y1="417.50" x2="26.50" y2="417.50" stroke="#777" stroke-width="1"/>
<text x="22.00" y="419.65" text-anchor="end" class="t">0</text>
<line x1="24.50" y1="432.50" x2="26.50" y2="432.50" stroke="#777" stroke-width="1"/>
<text x="22.00" y="434.45" text-anchor="end" class="t">−10</text>
<line x1="24.50" y1="447.50" x2="26.50" y2="447.50" stroke="#777" stroke-width="1"/>
<text x="22.00" y="449.25" text-anchor="end" class="t">−20</text>
<line x1="24.50" y1="462.50" x2="26.50" y2="462.50" stroke="#777" stroke-width="1"/>
<text x="22.00" y="464.35" text-anchor="end" class="t">−30</text>
<line x1="24.50" y1="477.50" x2="26.50" y2="477.50" stroke="#777" stroke-width="1"/>
<text x="22.00" y="479.35" text-anchor="end" class="t">−40</text>
<text x="108.30" y="502.50" text-anchor="middle" class="t">R [m]</text>
<text transform="translate(9.30 433.90) rotate(-90)" x="-10.7" class="t" textLength="21.4" lengthAdjust="spacingAndGlyphs">Error [%]</text>
<rect x="28.90" y="447.30" width="47.30" height="37.90" rx="1" fill="#fff" fill-opacity="0.8" stroke="#ddd" stroke-width="0.5"/>
<circle cx="36.00" cy="452.00" r="0.95" fill="#1f77b4"/>
<text x="44.80" y="453.95" class="t" textLength="29.60" lengthAdjust="spacingAndGlyphs">t = 0.27 Per</text>
<circle cx="36.00" cy="459.43" r="0.95" fill="#ff7f0e"/>
<text x="44.80" y="461.38" class="t" textLength="29.60" lengthAdjust="spacingAndGlyphs">t = 0.45 Per</text>
<circle cx="36.00" cy="466.86" r="0.95" fill="#2ca02c"/>
<text x="44.80" y="468.81" class="t" textLength="29.60" lengthAdjust="spacingAndGlyphs">t = 0.62 Per</text>
<circle cx="36.00" cy="474.29" r="0.95" fill="#7f7f7f"/>
<text x="44.80" y="476.24" class="t" textLength="29.60" lengthAdjust="spacingAndGlyphs">t = 0.79 Per</text>
<circle cx="36.00" cy="481.72" r="0.95" fill="#9467bd"/>
<text x="44.80" y="483.67" class="t" textLength="29.60" lengthAdjust="spacingAndGlyphs">t = 0.97 Per</text>
<g clip-path="url(#cliph)">
<path d="M268.90 406.34h0M270.43 406.36h0M271.96 406.39h0M273.49 406.42h0M275.02 406.47h0M276.55 406.52h0M278.07 406.59h0M279.60 406.66h0M281.13 406.74h0M282.66 406.82h0M284.19 406.92h0M285.72 407.02h0M287.25 407.13h0M288.78 407.24h0M290.31 407.37h0M291.84 407.50h0M293.37 407.64h0M294.89 407.78h0M296.42 407.93h0M297.95 408.09h0M299.48 408.25h0M301.01 408.42h0M302.54 408.59h0M304.07 408.77h0M305.60 408.95h0M307.13 409.14h0M308.66 409.34h0M310.19 409.54h0M311.71 409.74h0M313.24 409.95h0M314.77 410.17h0M316.30 410.38h0M317.83 410.61h0M319.36 410.83h0M320.89 411.06h0M322.42 411.29h0M323.95 411.53h0M325.48 411.77h0M327.01 412.01h0M328.53 412.26h0M330.06 412.50h0M331.59 412.75h0M333.12 413.01h0M334.65 413.26h0M336.18 413.52h0M337.71 413.78h0M339.24 414.04h0M340.77 414.30h0M342.30 414.56h0M343.82 414.83h0M345.35 415.09h0M346.88 415.36h0M348.41 415.62h0M349.94 415.89h0M351.47 416.16h0M353.00 416.43h0M354.53 416.70h0M356.06 416.96h0M357.59 417.23h0M359.12 417.50h0M360.64 417.76h0M362.17 418.03h0M363.70 418.29h0M365.23 418.56h0M366.76 418.82h0M368.29 419.08h0M369.82 419.34h0M371.35 419.59h0M372.88 419.85h0M374.41 420.10h0M375.94 420.35h0M377.46 420.60h0M378.99 420.84h0M380.52 421.08h0M382.05 421.32h0M383.58 421.56h0M385.11 421.79h0M386.64 422.02h0M388.17 422.24h0M389.70 422.47h0M391.23 422.68h0M392.76 422.90h0M394.28 423.10h0M395.81 423.31h0M397.34 423.51h0M398.87 423.70h0M400.40 423.89h0M401.93 424.08h0M403.46 424.25h0M404.99 424.43h0M406.52 424.60h0M408.05 424.76h0M409.58 424.91h0M411.10 425.06h0M412.63 425.20h0M414.16 425.34h0M415.69 425.47h0M417.22 425.59h0M418.75 425.71h0M420.28 425.82h0" fill="none" stroke="#1f77b4" stroke-width="2.20" stroke-linecap="round"/>
<path d="M268.90 384.94h0M270.43 385.08h0M271.96 385.20h0M273.49 385.31h0M275.02 385.41h0M276.55 385.50h0M278.07 385.58h0M279.60 385.64h0M281.13 385.70h0M282.66 385.75h0M284.19 385.79h0M285.72 385.83h0M287.25 385.86h0M288.78 385.89h0M290.31 385.92h0M291.84 385.94h0M293.37 385.97h0M294.89 385.99h0M296.42 386.01h0M297.95 386.04h0M299.48 386.07h0M301.01 386.11h0M302.54 386.15h0M304.07 386.19h0M305.60 386.25h0M307.13 386.31h0M308.66 386.38h0M310.19 386.46h0M311.71 386.56h0M313.24 386.66h0M314.77 386.78h0M316.30 386.91h0M317.83 387.06h0M319.36 387.23h0M320.89 387.41h0M322.42 387.61h0M323.95 387.83h0M325.48 388.07h0M327.01 388.33h0M328.53 388.62h0M330.06 388.93h0M331.59 389.26h0M333.12 389.62h0M334.65 390.00h0M336.18 390.41h0M337.71 390.85h0M339.24 391.32h0M340.77 391.82h0M342.30 392.36h0M343.82 392.92h0M345.35 393.52h0M346.88 394.15h0M348.41 394.82h0M349.94 395.52h0M351.47 396.26h0M353.00 397.05h0M354.53 397.87h0M356.06 398.73h0M357.59 399.63h0M359.12 400.57h0M360.64 401.56h0M362.17 402.60h0M363.70 403.67h0M365.23 404.80h0M366.76 405.97h0M368.29 407.19h0M369.82 408.47h0M371.35 409.79h0M372.88 411.16h0M374.41 412.59h0M375.94 414.06h0M377.46 415.58h0M378.99 417.15h0M380.52 418.77h0M382.05 420.43h0M383.58 422.13h0M385.11 423.87h0M386.64 425.65h0M388.17 427.47h0M389.70 429.33h0M391.23 431.23h0M392.76 433.17h0M394.28 435.16h0M395.81 437.20h0M397.34 439.29h0M398.87 441.44h0M400.40 443.65h0M401.93 445.93h0M403.46 448.30h0M404.99 450.76h0M406.52 453.33h0M408.05 456.00h0M409.58 458.80h0M411.10 461.73h0M412.63 464.80h0M414.16 468.02h0M415.69 471.40h0M417.22 474.94h0M418.75 478.67h0M420.28 482.59h0" fill="none" stroke="#ff7f0e" stroke-width="2.20" stroke-linecap="round"/>
<path d="M268.90 400.52h0M270.43 400.54h0M271.96 400.56h0M273.49 400.60h0M275.02 400.63h0M276.55 400.68h0M278.07 400.73h0M279.60 400.78h0M281.13 400.85h0M282.66 400.91h0M284.19 400.99h0M285.72 401.07h0M287.25 401.15h0M288.78 401.24h0M290.31 401.34h0M291.84 401.45h0M293.37 401.56h0M294.89 401.67h0M296.42 401.80h0M297.95 401.93h0M299.48 402.06h0M301.01 402.21h0M302.54 402.36h0M304.07 402.51h0M305.60 402.68h0M307.13 402.85h0M308.66 403.02h0M310.19 403.21h0M311.71 403.40h0M313.24 403.59h0M314.77 403.80h0M316.30 404.01h0M317.83 404.23h0M319.36 404.46h0M320.89 404.69h0M322.42 404.93h0M323.95 405.18h0M325.48 405.43h0M327.01 405.70h0M328.53 405.97h0M330.06 406.25h0M331.59 406.53h0M333.12 406.83h0M334.65 407.13h0M336.18 407.44h0M337.71 407.75h0M339.24 408.08h0M340.77 408.41h0M342.30 408.75h0M343.82 409.10h0M345.35 409.46h0M346.88 409.82h0M348.41 410.20h0M349.94 410.58h0M351.47 410.97h0M353.00 411.37h0M354.53 411.77h0M356.06 412.19h0M357.59 412.61h0M359.12 413.05h0M360.64 413.49h0M362.17 413.94h0M363.70 414.39h0M365.23 414.86h0M366.76 415.34h0M368.29 415.82h0M369.82 416.32h0M371.35 416.82h0M372.88 417.33h0M374.41 417.85h0M375.94 418.38h0M377.46 418.92h0M378.99 419.47h0M380.52 420.03h0M382.05 420.60h0M383.58 421.17h0M385.11 421.76h0M386.64 422.36h0M388.17 422.96h0M389.70 423.58h0M391.23 424.20h0M392.76 424.84h0M394.28 425.48h0M395.81 426.14h0M397.34 426.80h0M398.87 427.47h0M400.40 428.16h0M401.93 428.85h0M403.46 429.56h0M404.99 430.27h0M406.52 431.00h0M408.05 431.73h0M409.58 432.48h0M411.10 433.23h0M412.63 434.00h0M414.16 434.77h0M415.69 435.56h0M417.22 436.36h0M418.75 437.17h0M420.28 437.99h0" fill="none" stroke="#2ca02c" stroke-width="2.20" stroke-linecap="round"/>
<path d="M268.90 406.72h0M270.43 406.77h0M271.96 406.82h0M273.49 406.89h0M275.02 406.96h0M276.55 407.05h0M278.07 407.14h0M279.60 407.24h0M281.13 407.34h0M282.66 407.45h0M284.19 407.57h0M285.72 407.70h0M287.25 407.83h0M288.78 407.97h0M290.31 408.12h0M291.84 408.27h0M293.37 408.43h0M294.89 408.59h0M296.42 408.76h0M297.95 408.94h0M299.48 409.12h0M301.01 409.30h0M302.54 409.49h0M304.07 409.68h0M305.60 409.88h0M307.13 410.08h0M308.66 410.29h0M310.19 410.50h0M311.71 410.71h0M313.24 410.93h0M314.77 411.15h0M316.30 411.37h0M317.83 411.60h0M319.36 411.83h0M320.89 412.06h0M322.42 412.29h0M323.95 412.53h0M325.48 412.76h0M327.01 413.00h0M328.53 413.24h0M330.06 413.48h0M331.59 413.72h0M333.12 413.97h0M334.65 414.21h0M336.18 414.45h0M337.71 414.70h0M339.24 414.94h0M340.77 415.18h0M342.30 415.43h0M343.82 415.67h0M345.35 415.91h0M346.88 416.16h0M348.41 416.40h0M349.94 416.63h0M351.47 416.87h0M353.00 417.11h0M354.53 417.34h0M356.06 417.57h0M357.59 417.80h0M359.12 418.03h0M360.64 418.25h0M362.17 418.47h0M363.70 418.69h0M365.23 418.91h0M366.76 419.12h0M368.29 419.33h0M369.82 419.53h0M371.35 419.73h0M372.88 419.93h0M374.41 420.12h0M375.94 420.31h0M377.46 420.49h0M378.99 420.66h0M380.52 420.84h0M382.05 421.00h0M383.58 421.16h0M385.11 421.32h0M386.64 421.47h0M388.17 421.61h0M389.70 421.75h0M391.23 421.88h0M392.76 422.00h0M394.28 422.12h0M395.81 422.23h0M397.34 422.33h0M398.87 422.42h0M400.40 422.51h0M401.93 422.59h0M403.46 422.66h0M404.99 422.72h0M406.52 422.77h0M408.05 422.82h0M409.58 422.85h0M411.10 422.88h0M412.63 422.90h0M414.16 422.90h0M415.69 422.90h0M417.22 422.89h0M418.75 422.87h0M420.28 422.84h0" fill="none" stroke="#7f7f7f" stroke-width="2.20" stroke-linecap="round"/>
<path d="M268.90 387.26h0M270.43 387.38h0M271.96 387.50h0M273.49 387.61h0M275.02 387.71h0M276.55 387.80h0M278.07 387.90h0M279.60 387.99h0M281.13 388.07h0M282.66 388.16h0M284.19 388.24h0M285.72 388.32h0M287.25 388.40h0M288.78 388.48h0M290.31 388.56h0M291.84 388.65h0M293.37 388.73h0M294.89 388.82h0M296.42 388.91h0M297.95 389.01h0M299.48 389.11h0M301.01 389.22h0M302.54 389.34h0M304.07 389.46h0M305.60 389.59h0M307.13 389.73h0M308.66 389.87h0M310.19 390.03h0M311.71 390.20h0M313.24 390.37h0M314.77 390.56h0M316.30 390.77h0M317.83 390.98h0M319.36 391.21h0M320.89 391.46h0M322.42 391.72h0M323.95 391.99h0M325.48 392.28h0M327.01 392.59h0M328.53 392.92h0M330.06 393.26h0M331.59 393.63h0M333.12 394.01h0M334.65 394.41h0M336.18 394.84h0M337.71 395.29h0M339.24 395.76h0M340.77 396.25h0M342.30 396.77h0M343.82 397.31h0M345.35 397.88h0M346.88 398.47h0M348.41 399.09h0M349.94 399.74h0M351.47 400.41h0M353.00 401.11h0M354.53 401.85h0M356.06 402.61h0M357.59 403.40h0M359.12 404.23h0M360.64 405.08h0M362.17 405.97h0M363.70 406.89h0M365.23 407.85h0M366.76 408.84h0M368.29 409.87h0M369.82 410.93h0M371.35 412.03h0M372.88 413.16h0M374.41 414.34h0M375.94 415.55h0M377.46 416.80h0M378.99 418.09h0M380.52 419.42h0M382.05 420.80h0M383.58 422.21h0M385.11 423.67h0M386.64 425.18h0M388.17 426.72h0M389.70 428.31h0M391.23 429.95h0M392.76 431.63h0M394.28 433.36h0M395.81 435.14h0M397.34 436.96h0M398.87 438.83h0M400.40 440.76h0M401.93 442.73h0M403.46 444.75h0M404.99 446.83h0M406.52 448.95h0M408.05 451.13h0M409.58 453.37h0M411.10 455.65h0M412.63 457.99h0M414.16 460.39h0M415.69 462.85h0M417.22 465.36h0M418.75 467.92h0M420.28 470.55h0" fill="none" stroke="#9467bd" stroke-width="2.20" stroke-linecap="round"/>
</g>
<rect x="261.50" y="380.50" width="166.00" height="108.00" fill="none" stroke="#7a7a7a" stroke-width="1"/>
<line x1="268.50" y1="488.50" x2="268.50" y2="490.50" stroke="#777" stroke-width="1"/>
<text x="268.20" y="495.70" text-anchor="middle" class="t">0.0000</text>
<line x1="294.50" y1="488.50" x2="294.50" y2="490.50" stroke="#777" stroke-width="1"/>
<text x="293.60" y="495.70" text-anchor="middle" class="t">0.0005</text>
<line x1="319.50" y1="488.50" x2="319.50" y2="490.50" stroke="#777" stroke-width="1"/>
<text x="319.00" y="495.70" text-anchor="middle" class="t">0.0010</text>
<line x1="345.50" y1="488.50" x2="345.50" y2="490.50" stroke="#777" stroke-width="1"/>
<text x="344.40" y="495.70" text-anchor="middle" class="t">0.0015</text>
<line x1="370.50" y1="488.50" x2="370.50" y2="490.50" stroke="#777" stroke-width="1"/>
<text x="369.80" y="495.70" text-anchor="middle" class="t">0.0020</text>
<line x1="395.50" y1="488.50" x2="395.50" y2="490.50" stroke="#777" stroke-width="1"/>
<text x="395.20" y="495.70" text-anchor="middle" class="t">0.0025</text>
<line x1="421.50" y1="488.50" x2="421.50" y2="490.50" stroke="#777" stroke-width="1"/>
<text x="420.60" y="495.70" text-anchor="middle" class="t">0.0030</text>
<line x1="259.50" y1="387.50" x2="261.50" y2="387.50" stroke="#777" stroke-width="1"/>
<text x="256.90" y="389.25" text-anchor="end" class="t">20</text>
<line x1="259.50" y1="402.50" x2="261.50" y2="402.50" stroke="#777" stroke-width="1"/>
<text x="256.90" y="404.25" text-anchor="end" class="t">10</text>
<line x1="259.50" y1="417.50" x2="261.50" y2="417.50" stroke="#777" stroke-width="1"/>
<text x="256.90" y="419.65" text-anchor="end" class="t">0</text>
<line x1="259.50" y1="433.50" x2="261.50" y2="433.50" stroke="#777" stroke-width="1"/>
<text x="256.90" y="435.05" text-anchor="end" class="t">−10</text>
<line x1="259.50" y1="448.50" x2="261.50" y2="448.50" stroke="#777" stroke-width="1"/>
<text x="256.90" y="450.25" text-anchor="end" class="t">−20</text>
<line x1="259.50" y1="463.50" x2="261.50" y2="463.50" stroke="#777" stroke-width="1"/>
<text x="256.90" y="465.65" text-anchor="end" class="t">−30</text>
<line x1="259.50" y1="479.50" x2="261.50" y2="479.50" stroke="#777" stroke-width="1"/>
<text x="256.90" y="481.05" text-anchor="end" class="t">−40</text>
<text x="343.70" y="502.50" text-anchor="middle" class="t">R [m]</text>
<text transform="translate(244.20 433.90) rotate(-90)" x="-10.7" class="t" textLength="21.4" lengthAdjust="spacingAndGlyphs">Error [%]</text>
<rect x="263.50" y="447.50" width="48.40" height="38.90" rx="1" fill="#fff" fill-opacity="0.8" stroke="#ddd" stroke-width="0.5"/>
<circle cx="270.60" cy="452.20" r="0.95" fill="#1f77b4"/>
<text x="279.40" y="454.15" class="t" textLength="29.60" lengthAdjust="spacingAndGlyphs">t = 0.27 Per</text>
<circle cx="270.60" cy="459.63" r="0.95" fill="#ff7f0e"/>
<text x="279.40" y="461.58" class="t" textLength="29.60" lengthAdjust="spacingAndGlyphs">t = 0.45 Per</text>
<circle cx="270.60" cy="467.06" r="0.95" fill="#2ca02c"/>
<text x="279.40" y="469.01" class="t" textLength="29.60" lengthAdjust="spacingAndGlyphs">t = 0.62 Per</text>
<circle cx="270.60" cy="474.49" r="0.95" fill="#7f7f7f"/>
<text x="279.40" y="476.44" class="t" textLength="29.60" lengthAdjust="spacingAndGlyphs">t = 0.79 Per</text>
<circle cx="270.60" cy="481.92" r="0.95" fill="#9467bd"/>
<text x="279.40" y="483.87" class="t" textLength="29.60" lengthAdjust="spacingAndGlyphs">t = 0.97 Per</text>
<g clip-path="url(#clipi)">
<path d="M503.70 406.38h0M504.46 406.38h0M505.21 406.39h0M505.97 406.40h0M506.73 406.41h0M507.48 406.42h0M508.24 406.44h0M509.00 406.45h0M509.75 406.47h0M510.51 406.49h0M511.27 406.52h0M512.02 406.54h0M512.78 406.57h0M513.54 406.60h0M514.29 406.63h0M515.05 406.67h0M515.81 406.70h0M516.56 406.74h0M517.32 406.78h0M518.08 406.82h0M518.83 406.86h0M519.59 406.91h0M520.35 406.96h0M521.10 407.01h0M521.86 407.06h0M522.62 407.11h0M523.37 407.16h0M524.13 407.22h0M524.89 407.28h0M525.64 407.34h0M526.40 407.40h0M527.16 407.46h0M527.91 407.52h0M528.67 407.59h0M529.43 407.66h0M530.18 407.73h0M530.94 407.80h0M531.70 407.87h0M532.45 407.94h0M533.21 408.02h0M533.97 408.10h0M534.72 408.17h0M535.48 408.25h0M536.24 408.33h0M537.00 408.42h0M537.75 408.50h0M538.51 408.59h0M539.27 408.67h0M540.02 408.76h0M540.78 408.85h0M541.54 408.94h0M542.29 409.03h0M543.05 409.13h0M543.81 409.22h0M544.56 409.32h0M545.32 409.41h0M546.08 409.51h0M546.83 409.61h0M547.59 409.71h0M548.35 409.81h0M549.10 409.91h0M549.86 410.02h0M550.62 410.12h0M551.37 410.23h0M552.13 410.33h0M552.89 410.44h0M553.64 410.55h0M554.40 410.66h0M555.16 410.77h0M555.91 410.88h0M556.67 410.99h0M557.43 411.10h0M558.18 411.22h0M558.94 411.33h0M559.70 411.45h0M560.45 411.57h0M561.21 411.68h0M561.97 411.80h0M562.72 411.92h0M563.48 412.04h0M564.24 412.16h0M564.99 412.28h0M565.75 412.40h0M566.51 412.52h0M567.26 412.64h0M568.02 412.77h0M568.78 412.89h0M569.53 413.02h0M570.29 413.14h0M571.05 413.27h0M571.80 413.39h0M572.56 413.52h0M573.32 413.65h0M574.07 413.77h0M574.83 413.90h0M575.59 414.03h0M576.34 414.16h0M577.10 414.29h0M577.86 414.41h0M578.61 414.54h0M579.37 414.67h0M580.13 414.80h0M580.88 414.93h0M581.64 415.06h0M582.40 415.19h0M583.15 415.33h0M583.91 415.46h0M584.67 415.59h0M585.42 415.72h0M586.18 415.85h0M586.94 415.98h0M587.69 416.11h0M588.45 416.25h0M589.21 416.38h0M589.96 416.51h0M590.72 416.64h0M591.48 416.77h0M592.23 416.91h0M592.99 417.04h0M593.75 417.17h0M594.50 417.30h0M595.26 417.43h0M596.02 417.56h0M596.77 417.69h0M597.53 417.82h0M598.29 417.96h0M599.04 418.09h0M599.80 418.22h0M600.56 418.35h0M601.31 418.48h0M602.07 418.61h0M602.83 418.73h0M603.59 418.86h0M604.34 418.99h0M605.10 419.12h0M605.86 419.25h0M606.61 419.37h0M607.37 419.50h0M608.13 419.63h0M608.88 419.75h0M609.64 419.88h0M610.40 420.00h0M611.15 420.13h0M611.91 420.25h0M612.67 420.38h0M613.42 420.50h0M614.18 420.62h0M614.94 420.74h0M615.69 420.86h0M616.45 420.98h0M617.21 421.10h0M617.96 421.22h0M618.72 421.34h0M619.48 421.46h0M620.23 421.57h0M620.99 421.69h0M621.75 421.80h0M622.50 421.92h0M623.26 422.03h0M624.02 422.14h0M624.77 422.25h0M625.53 422.36h0M626.29 422.47h0M627.04 422.58h0M627.80 422.69h0M628.56 422.80h0M629.31 422.90h0M630.07 423.01h0M630.83 423.11h0M631.58 423.21h0M632.34 423.31h0M633.10 423.42h0M633.85 423.51h0M634.61 423.61h0M635.37 423.71h0M636.12 423.80h0M636.88 423.90h0M637.64 423.99h0M638.39 424.08h0M639.15 424.18h0M639.91 424.26h0M640.66 424.35h0M641.42 424.44h0M642.18 424.53h0M642.93 424.61h0M643.69 424.69h0M644.45 424.77h0M645.20 424.85h0M645.96 424.93h0M646.72 425.01h0M647.47 425.08h0M648.23 425.16h0M648.99 425.23h0M649.74 425.30h0M650.50 425.37h0M651.26 425.44h0M652.01 425.51h0M652.77 425.57h0M653.53 425.63h0M654.28 425.69h0" fill="none" stroke="#1f77b4" stroke-width="2.20" stroke-linecap="round"/>
<path d="M503.70 384.71h0M504.46 384.79h0M505.21 384.86h0M505.97 384.93h0M506.73 384.99h0M507.48 385.06h0M508.24 385.11h0M509.00 385.17h0M509.75 385.22h0M510.51 385.27h0M511.27 385.32h0M512.02 385.36h0M512.78 385.41h0M513.54 385.45h0M514.29 385.48h0M515.05 385.52h0M515.81 385.55h0M516.56 385.59h0M517.32 385.62h0M518.08 385.64h0M518.83 385.67h0M519.59 385.70h0M520.35 385.72h0M521.10 385.74h0M521.86 385.77h0M522.62 385.79h0M523.37 385.81h0M524.13 385.83h0M524.89 385.85h0M525.64 385.87h0M526.40 385.89h0M527.16 385.90h0M527.91 385.92h0M528.67 385.94h0M529.43 385.96h0M530.18 385.98h0M530.94 386.00h0M531.70 386.02h0M532.45 386.04h0M533.21 386.06h0M533.97 386.08h0M534.72 386.10h0M535.48 386.13h0M536.24 386.15h0M537.00 386.18h0M537.75 386.21h0M538.51 386.24h0M539.27 386.27h0M540.02 386.30h0M540.78 386.34h0M541.54 386.37h0M542.29 386.41h0M543.05 386.45h0M543.81 386.50h0M544.56 386.55h0M545.32 386.59h0M546.08 386.65h0M546.83 386.70h0M547.59 386.76h0M548.35 386.82h0M549.10 386.88h0M549.86 386.95h0M550.62 387.02h0M551.37 387.10h0M552.13 387.18h0M552.89 387.26h0M553.64 387.34h0M554.40 387.43h0M555.16 387.53h0M555.91 387.63h0M556.67 387.73h0M557.43 387.84h0M558.18 387.95h0M558.94 388.07h0M559.70 388.19h0M560.45 388.32h0M561.21 388.45h0M561.97 388.58h0M562.72 388.73h0M563.48 388.87h0M564.24 389.03h0M564.99 389.19h0M565.75 389.35h0M566.51 389.52h0M567.26 389.70h0M568.02 389.88h0M568.78 390.07h0M569.53 390.27h0M570.29 390.47h0M571.05 390.68h0M571.80 390.90h0M572.56 391.12h0M573.32 391.35h0M574.07 391.59h0M574.83 391.83h0M575.59 392.08h0M576.34 392.34h0M577.10 392.61h0M577.86 392.89h0M578.61 393.17h0M579.37 393.46h0M580.13 393.76h0M580.88 394.06h0M581.64 394.38h0M582.40 394.70h0M583.15 395.03h0M583.91 395.37h0M584.67 395.72h0M585.42 396.08h0M586.18 396.45h0M586.94 396.83h0M587.69 397.21h0M588.45 397.61h0M589.21 398.01h0M589.96 398.43h0M590.72 398.85h0M591.48 399.28h0M592.23 399.73h0M592.99 400.18h0M593.75 400.64h0M594.50 401.12h0M595.26 401.60h0M596.02 402.10h0M596.77 402.60h0M597.53 403.12h0M598.29 403.65h0M599.04 404.19h0M599.80 404.74h0M600.56 405.30h0M601.31 405.87h0M602.07 406.46h0M602.83 407.05h0M603.59 407.66h0M604.34 408.28h0M605.10 408.91h0M605.86 409.55h0M606.61 410.21h0M607.37 410.88h0M608.13 411.56h0M608.88 412.25h0M609.64 412.95h0M610.40 413.67h0M611.15 414.40h0M611.91 415.15h0M612.67 415.91h0M613.42 416.68h0M614.18 417.46h0M614.94 418.26h0M615.69 419.07h0M616.45 419.90h0M617.21 420.73h0M617.96 421.59h0M618.72 422.45h0M619.48 423.34h0M620.23 424.23h0M620.99 425.14h0M621.75 426.07h0M622.50 427.01h0M623.26 427.96h0M624.02 428.93h0M624.77 429.91h0M625.53 430.91h0M626.29 431.93h0M627.04 432.96h0M627.80 434.00h0M628.56 435.06h0M629.31 436.14h0M630.07 437.23h0M630.83 438.34h0M631.58 439.47h0M632.34 440.61h0M633.10 441.76h0M633.85 442.94h0M634.61 444.13h0M635.37 445.34h0M636.12 446.56h0M636.88 447.80h0M637.64 449.06h0M638.39 450.33h0M639.15 451.63h0M639.91 452.94h0M640.66 454.26h0M641.42 455.61h0M642.18 456.97h0M642.93 458.35h0M643.69 459.75h0M644.45 461.17h0M645.20 462.60h0M645.96 464.06h0M646.72 465.53h0M647.47 467.02h0M648.23 468.53h0M648.99 470.05h0M649.74 471.60h0M650.50 473.17h0M651.26 474.75h0M652.01 476.36h0M652.77 477.98h0M653.53 479.62h0M654.28 481.29h0" fill="none" stroke="#ff7f0e" stroke-width="2.20" stroke-linecap="round"/>
<path d="M503.70 400.00h0M504.46 400.03h0M505.21 400.07h0M505.97 400.11h0M506.73 400.15h0M507.48 400.19h0M508.24 400.23h0M509.00 400.28h0M509.75 400.32h0M510.51 400.36h0M511.27 400.40h0M512.02 400.45h0M512.78 400.49h0M513.54 400.53h0M514.29 400.58h0M515.05 400.62h0M515.81 400.67h0M516.56 400.72h0M517.32 400.76h0M518.08 400.81h0M518.83 400.86h0M519.59 400.91h0M520.35 400.96h0M521.10 401.01h0M521.86 401.06h0M522.62 401.11h0M523.37 401.16h0M524.13 401.22h0M524.89 401.27h0M525.64 401.33h0M526.40 401.39h0M527.16 401.44h0M527.91 401.50h0M528.67 401.56h0M529.43 401.62h0M530.18 401.68h0M530.94 401.74h0M531.70 401.81h0M532.45 401.87h0M533.21 401.94h0M533.97 402.01h0M534.72 402.07h0M535.48 402.14h0M536.24 402.21h0M537.00 402.28h0M537.75 402.36h0M538.51 402.43h0M539.27 402.51h0M540.02 402.58h0M540.78 402.66h0M541.54 402.74h0M542.29 402.82h0M543.05 402.90h0M543.81 402.99h0M544.56 403.07h0M545.32 403.16h0M546.08 403.25h0M546.83 403.34h0M547.59 403.43h0M548.35 403.52h0M549.10 403.62h0M549.86 403.71h0M550.62 403.81h0M551.37 403.91h0M552.13 404.01h0M552.89 404.11h0M553.64 404.22h0M554.40 404.32h0M555.16 404.43h0M555.91 404.54h0M556.67 404.65h0M557.43 404.76h0M558.18 404.88h0M558.94 405.00h0M559.70 405.11h0M560.45 405.23h0M561.21 405.36h0M561.97 405.48h0M562.72 405.61h0M563.48 405.74h0M564.24 405.87h0M564.99 406.00h0M565.75 406.14h0M566.51 406.27h0M567.26 406.41h0M568.02 406.55h0M568.78 406.70h0M569.53 406.84h0M570.29 406.99h0M571.05 407.14h0M571.80 407.29h0M572.56 407.45h0M573.32 407.60h0M574.07 407.76h0M574.83 407.92h0M575.59 408.09h0M576.34 408.25h0M577.10 408.42h0M577.86 408.59h0M578.61 408.77h0M579.37 408.94h0M580.13 409.12h0M580.88 409.30h0M581.64 409.48h0M582.40 409.67h0M583.15 409.86h0M583.91 410.05h0M584.67 410.24h0M585.42 410.44h0M586.18 410.64h0M586.94 410.84h0M587.69 411.05h0M588.45 411.25h0M589.21 411.47h0M589.96 411.68h0M590.72 411.89h0M591.48 412.11h0M592.23 412.33h0M592.99 412.56h0M593.75 412.79h0M594.50 413.02h0M595.26 413.25h0M596.02 413.49h0M596.77 413.72h0M597.53 413.97h0M598.29 414.21h0M599.04 414.46h0M599.80 414.71h0M600.56 414.96h0M601.31 415.22h0M602.07 415.48h0M602.83 415.74h0M603.59 416.01h0M604.34 416.28h0M605.10 416.55h0M605.86 416.82h0M606.61 417.10h0M607.37 417.38h0M608.13 417.66h0M608.88 417.94h0M609.64 418.23h0M610.40 418.52h0M611.15 418.81h0M611.91 419.10h0M612.67 419.40h0M613.42 419.70h0M614.18 420.00h0M614.94 420.31h0M615.69 420.61h0M616.45 420.92h0M617.21 421.23h0M617.96 421.55h0M618.72 421.86h0M619.48 422.18h0M620.23 422.50h0M620.99 422.82h0M621.75 423.15h0M622.50 423.47h0M623.26 423.80h0M624.02 424.14h0M624.77 424.47h0M625.53 424.80h0M626.29 425.14h0M627.04 425.48h0M627.80 425.82h0M628.56 426.17h0M629.31 426.51h0M630.07 426.86h0M630.83 427.21h0M631.58 427.56h0M632.34 427.91h0M633.10 428.27h0M633.85 428.62h0M634.61 428.98h0M635.37 429.34h0M636.12 429.70h0M636.88 430.05h0M637.64 430.41h0M638.39 430.77h0M639.15 431.13h0M639.91 431.48h0M640.66 431.84h0M641.42 432.19h0M642.18 432.54h0M642.93 432.89h0M643.69 433.24h0M644.45 433.58h0M645.20 433.92h0M645.96 434.26h0M646.72 434.59h0M647.47 434.93h0M648.23 435.25h0M648.99 435.58h0M649.74 435.89h0M650.50 436.21h0M651.26 436.51h0M652.01 436.82h0M652.77 437.11h0M653.53 437.41h0M654.28 437.69h0" fill="none" stroke="#2ca02c" stroke-width="2.20" stroke-linecap="round"/>
<path d="M503.70 407.11h0M504.46 407.11h0M505.21 407.11h0M505.97 407.12h0M506.73 407.12h0M507.48 407.13h0M508.24 407.14h0M509.00 407.16h0M509.75 407.17h0M510.51 407.19h0M511.27 407.21h0M512.02 407.24h0M512.78 407.26h0M513.54 407.29h0M514.29 407.32h0M515.05 407.35h0M515.81 407.39h0M516.56 407.43h0M517.32 407.47h0M518.08 407.51h0M518.83 407.55h0M519.59 407.60h0M520.35 407.65h0M521.10 407.70h0M521.86 407.75h0M522.62 407.80h0M523.37 407.86h0M524.13 407.92h0M524.89 407.98h0M525.64 408.04h0M526.40 408.10h0M527.16 408.17h0M527.91 408.24h0M528.67 408.31h0M529.43 408.38h0M530.18 408.45h0M530.94 408.53h0M531.70 408.60h0M532.45 408.68h0M533.21 408.76h0M533.97 408.84h0M534.72 408.92h0M535.48 409.01h0M536.24 409.09h0M537.00 409.18h0M537.75 409.27h0M538.51 409.36h0M539.27 409.45h0M540.02 409.54h0M540.78 409.64h0M541.54 409.73h0M542.29 409.83h0M543.05 409.93h0M543.81 410.03h0M544.56 410.13h0M545.32 410.23h0M546.08 410.33h0M546.83 410.43h0M547.59 410.54h0M548.35 410.64h0M549.10 410.75h0M549.86 410.86h0M550.62 410.97h0M551.37 411.08h0M552.13 411.19h0M552.89 411.30h0M553.64 411.41h0M554.40 411.53h0M555.16 411.64h0M555.91 411.75h0M556.67 411.87h0M557.43 411.99h0M558.18 412.10h0M558.94 412.22h0M559.70 412.34h0M560.45 412.46h0M561.21 412.58h0M561.97 412.70h0M562.72 412.82h0M563.48 412.94h0M564.24 413.06h0M564.99 413.18h0M565.75 413.30h0M566.51 413.43h0M567.26 413.55h0M568.02 413.67h0M568.78 413.80h0M569.53 413.92h0M570.29 414.04h0M571.05 414.17h0M571.80 414.29h0M572.56 414.42h0M573.32 414.54h0M574.07 414.67h0M574.83 414.79h0M575.59 414.92h0M576.34 415.04h0M577.10 415.17h0M577.86 415.29h0M578.61 415.41h0M579.37 415.54h0M580.13 415.66h0M580.88 415.79h0M581.64 415.91h0M582.40 416.04h0M583.15 416.16h0M583.91 416.28h0M584.67 416.41h0M585.42 416.53h0M586.18 416.65h0M586.94 416.77h0M587.69 416.89h0M588.45 417.02h0M589.21 417.14h0M589.96 417.26h0M590.72 417.38h0M591.48 417.50h0M592.23 417.61h0M592.99 417.73h0M593.75 417.85h0M594.50 417.97h0M595.26 418.08h0M596.02 418.20h0M596.77 418.31h0M597.53 418.42h0M598.29 418.54h0M599.04 418.65h0M599.80 418.76h0M600.56 418.87h0M601.31 418.98h0M602.07 419.09h0M602.83 419.19h0M603.59 419.30h0M604.34 419.41h0M605.10 419.51h0M605.86 419.61h0M606.61 419.71h0M607.37 419.82h0M608.13 419.92h0M608.88 420.01h0M609.64 420.11h0M610.40 420.21h0M611.15 420.30h0M611.91 420.39h0M612.67 420.49h0M613.42 420.58h0M614.18 420.67h0M614.94 420.75h0M615.69 420.84h0M616.45 420.92h0M617.21 421.01h0M617.96 421.09h0M618.72 421.17h0M619.48 421.25h0M620.23 421.33h0M620.99 421.40h0M621.75 421.47h0M622.50 421.55h0M623.26 421.62h0M624.02 421.68h0M624.77 421.75h0M625.53 421.82h0M626.29 421.88h0M627.04 421.94h0M627.80 422.00h0M628.56 422.06h0M629.31 422.11h0M630.07 422.16h0M630.83 422.21h0M631.58 422.26h0M632.34 422.31h0M633.10 422.36h0M633.85 422.40h0M634.61 422.44h0M635.37 422.48h0M636.12 422.51h0M636.88 422.55h0M637.64 422.58h0M638.39 422.61h0M639.15 422.63h0M639.91 422.66h0M640.66 422.68h0M641.42 422.70h0M642.18 422.72h0M642.93 422.73h0M643.69 422.75h0M644.45 422.76h0M645.20 422.76h0M645.96 422.77h0M646.72 422.77h0M647.47 422.77h0M648.23 422.77h0M648.99 422.76h0M649.74 422.75h0M650.50 422.74h0M651.26 422.72h0M652.01 422.71h0M652.77 422.69h0M653.53 422.66h0M654.28 422.64h0" fill="none" stroke="#7f7f7f" stroke-width="2.20" stroke-linecap="round"/>
<path d="M503.70 387.68h0M504.46 387.73h0M505.21 387.79h0M505.97 387.84h0M506.73 387.89h0M507.48 387.93h0M508.24 387.98h0M509.00 388.03h0M509.75 388.07h0M510.51 388.11h0M511.27 388.16h0M512.02 388.20h0M512.78 388.24h0M513.54 388.28h0M514.29 388.31h0M515.05 388.35h0M515.81 388.39h0M516.56 388.43h0M517.32 388.46h0M518.08 388.50h0M518.83 388.53h0M519.59 388.57h0M520.35 388.60h0M521.10 388.64h0M521.86 388.67h0M522.62 388.71h0M523.37 388.74h0M524.13 388.78h0M524.89 388.81h0M525.64 388.85h0M526.40 388.89h0M527.16 388.92h0M527.91 388.96h0M528.67 389.00h0M529.43 389.04h0M530.18 389.08h0M530.94 389.12h0M531.70 389.17h0M532.45 389.21h0M533.21 389.25h0M533.97 389.30h0M534.72 389.35h0M535.48 389.40h0M536.24 389.45h0M537.00 389.50h0M537.75 389.56h0M538.51 389.61h0M539.27 389.67h0M540.02 389.73h0M540.78 389.79h0M541.54 389.85h0M542.29 389.92h0M543.05 389.99h0M543.81 390.06h0M544.56 390.13h0M545.32 390.21h0M546.08 390.29h0M546.83 390.37h0M547.59 390.45h0M548.35 390.54h0M549.10 390.63h0M549.86 390.72h0M550.62 390.82h0M551.37 390.92h0M552.13 391.02h0M552.89 391.13h0M553.64 391.24h0M554.40 391.35h0M555.16 391.47h0M555.91 391.59h0M556.67 391.71h0M557.43 391.84h0M558.18 391.97h0M558.94 392.10h0M559.70 392.24h0M560.45 392.39h0M561.21 392.54h0M561.97 392.69h0M562.72 392.84h0M563.48 393.01h0M564.24 393.17h0M564.99 393.34h0M565.75 393.52h0M566.51 393.70h0M567.26 393.88h0M568.02 394.07h0M568.78 394.27h0M569.53 394.47h0M570.29 394.67h0M571.05 394.88h0M571.80 395.10h0M572.56 395.32h0M573.32 395.55h0M574.07 395.78h0M574.83 396.02h0M575.59 396.26h0M576.34 396.51h0M577.10 396.77h0M577.86 397.03h0M578.61 397.30h0M579.37 397.57h0M580.13 397.85h0M580.88 398.14h0M581.64 398.43h0M582.40 398.73h0M583.15 399.04h0M583.91 399.35h0M584.67 399.67h0M585.42 400.00h0M586.18 400.33h0M586.94 400.67h0M587.69 401.02h0M588.45 401.38h0M589.21 401.74h0M589.96 402.11h0M590.72 402.49h0M591.48 402.87h0M592.23 403.26h0M592.99 403.66h0M593.75 404.07h0M594.50 404.48h0M595.26 404.91h0M596.02 405.34h0M596.77 405.78h0M597.53 406.22h0M598.29 406.68h0M599.04 407.14h0M599.80 407.62h0M600.56 408.10h0M601.31 408.59h0M602.07 409.08h0M602.83 409.59h0M603.59 410.10h0M604.34 410.63h0M605.10 411.16h0M605.86 411.70h0M606.61 412.26h0M607.37 412.82h0M608.13 413.39h0M608.88 413.96h0M609.64 414.55h0M610.40 415.15h0M611.15 415.76h0M611.91 416.38h0M612.67 417.00h0M613.42 417.64h0M614.18 418.29h0M614.94 418.95h0M615.69 419.61h0M616.45 420.29h0M617.21 420.98h0M617.96 421.68h0M618.72 422.39h0M619.48 423.10h0M620.23 423.83h0M620.99 424.58h0M621.75 425.33h0M622.50 426.09h0M623.26 426.86h0M624.02 427.65h0M624.77 428.44h0M625.53 429.25h0M626.29 430.07h0M627.04 430.90h0M627.80 431.74h0M628.56 432.59h0M629.31 433.45h0M630.07 434.33h0M630.83 435.22h0M631.58 436.12h0M632.34 437.03h0M633.10 437.95h0M633.85 438.89h0M634.61 439.83h0M635.37 440.79h0M636.12 441.77h0M636.88 442.75h0M637.64 443.75h0M638.39 444.76h0M639.15 445.78h0M639.91 446.82h0M640.66 447.86h0M641.42 448.92h0M642.18 450.00h0M642.93 451.08h0M643.69 452.18h0M644.45 453.30h0M645.20 454.42h0M645.96 455.56h0M646.72 456.72h0M647.47 457.88h0M648.23 459.06h0M648.99 460.26h0M649.74 461.46h0M650.50 462.68h0M651.26 463.92h0M652.01 465.17h0M652.77 466.43h0M653.53 467.71h0M654.28 469.00h0" fill="none" stroke="#9467bd" stroke-width="2.20" stroke-linecap="round"/>
</g>
<rect x="495.50" y="380.50" width="167.00" height="108.00" fill="none" stroke="#7a7a7a" stroke-width="1"/>
<line x1="503.50" y1="488.50" x2="503.50" y2="490.50" stroke="#777" stroke-width="1"/>
<text x="503.00" y="495.90" text-anchor="middle" class="t">0.0000</text>
<line x1="528.50" y1="488.50" x2="528.50" y2="490.50" stroke="#777" stroke-width="1"/>
<text x="528.27" y="495.90" text-anchor="middle" class="t">0.0005</text>
<line x1="554.50" y1="488.50" x2="554.50" y2="490.50" stroke="#777" stroke-width="1"/>
<text x="553.53" y="495.90" text-anchor="middle" class="t">0.0010</text>
<line x1="579.50" y1="488.50" x2="579.50" y2="490.50" stroke="#777" stroke-width="1"/>
<text x="578.80" y="495.90" text-anchor="middle" class="t">0.0015</text>
<line x1="604.50" y1="488.50" x2="604.50" y2="490.50" stroke="#777" stroke-width="1"/>
<text x="604.07" y="495.90" text-anchor="middle" class="t">0.0020</text>
<line x1="630.50" y1="488.50" x2="630.50" y2="490.50" stroke="#777" stroke-width="1"/>
<text x="629.33" y="495.90" text-anchor="middle" class="t">0.0025</text>
<line x1="655.50" y1="488.50" x2="655.50" y2="490.50" stroke="#777" stroke-width="1"/>
<text x="654.60" y="495.90" text-anchor="middle" class="t">0.0030</text>
<line x1="493.50" y1="387.50" x2="495.50" y2="387.50" stroke="#777" stroke-width="1"/>
<text x="491.00" y="389.05" text-anchor="end" class="t">20</text>
<line x1="493.50" y1="402.50" x2="495.50" y2="402.50" stroke="#777" stroke-width="1"/>
<text x="491.00" y="404.25" text-anchor="end" class="t">10</text>
<line x1="493.50" y1="417.50" x2="495.50" y2="417.50" stroke="#777" stroke-width="1"/>
<text x="491.00" y="419.65" text-anchor="end" class="t">0</text>
<line x1="493.50" y1="433.50" x2="495.50" y2="433.50" stroke="#777" stroke-width="1"/>
<text x="491.00" y="435.25" text-anchor="end" class="t">−10</text>
<line x1="493.50" y1="448.50" x2="495.50" y2="448.50" stroke="#777" stroke-width="1"/>
<text x="491.00" y="450.65" text-anchor="end" class="t">−20</text>
<line x1="493.50" y1="464.50" x2="495.50" y2="464.50" stroke="#777" stroke-width="1"/>
<text x="491.00" y="466.05" text-anchor="end" class="t">−30</text>
<line x1="493.50" y1="479.50" x2="495.50" y2="479.50" stroke="#777" stroke-width="1"/>
<text x="491.00" y="481.65" text-anchor="end" class="t">−40</text>
<text x="578.25" y="502.70" text-anchor="middle" class="t">R [m]</text>
<text transform="translate(478.30 433.95) rotate(-90)" x="-10.7" class="t" textLength="21.4" lengthAdjust="spacingAndGlyphs">Error [%]</text>
<rect x="497.60" y="447.50" width="48.00" height="38.90" rx="1" fill="#fff" fill-opacity="0.8" stroke="#ddd" stroke-width="0.5"/>
<circle cx="504.70" cy="452.20" r="0.95" fill="#1f77b4"/>
<text x="513.50" y="454.15" class="t" textLength="29.60" lengthAdjust="spacingAndGlyphs">t = 0.27 Per</text>
<circle cx="504.70" cy="459.63" r="0.95" fill="#ff7f0e"/>
<text x="513.50" y="461.58" class="t" textLength="29.60" lengthAdjust="spacingAndGlyphs">t = 0.45 Per</text>
<circle cx="504.70" cy="467.06" r="0.95" fill="#2ca02c"/>
<text x="513.50" y="469.01" class="t" textLength="29.60" lengthAdjust="spacingAndGlyphs">t = 0.62 Per</text>
<circle cx="504.70" cy="474.49" r="0.95" fill="#7f7f7f"/>
<text x="513.50" y="476.44" class="t" textLength="29.60" lengthAdjust="spacingAndGlyphs">t = 0.79 Per</text>
<circle cx="504.70" cy="481.92" r="0.95" fill="#9467bd"/>
<text x="513.50" y="483.87" class="t" textLength="29.60" lengthAdjust="spacingAndGlyphs">t = 0.97 Per</text>
<text transform="translate(1.10 155.10) scale(1.042 1.090)" font-size="19.20">(</text>
<text x="7.76" y="154.60" font-size="19.20" textLength="8.88" lengthAdjust="spacingAndGlyphs">a</text>
<text transform="translate(16.64 155.10) scale(1.042 1.090)" font-size="19.20">)</text>
<text x="31.18" y="154.60" font-size="19.20" textLength="56.57" lengthAdjust="spacingAndGlyphs">Elastic</text>
<text x="93.49" y="154.60" font-size="19.20" textLength="6.79" lengthAdjust="spacingAndGlyphs">-</text>
<text x="109.11" y="154.60" font-size="19.20" textLength="13.13" lengthAdjust="spacingAndGlyphs" font-style="italic">R</text>
<rect x="130.00" y="147" width="12.80" height="1" fill="#111"/>
<rect x="130.00" y="151" width="12.80" height="1" fill="#111"/>
<text x="150.13" y="154.60" font-size="19.20" textLength="19.45" lengthAdjust="spacingAndGlyphs">50</text>
<text x="169.36" y="154.60" font-size="19.20" textLength="15.34" lengthAdjust="spacingAndGlyphs">Δ</text>
<text x="186.21" y="154.60" font-size="19.20" textLength="9.17" lengthAdjust="spacingAndGlyphs" font-style="italic">x</text>
<text x="195.90" y="154.60" font-size="19.20" textLength="5.00" lengthAdjust="spacingAndGlyphs">,</text>
<text x="0.34" y="178.70" font-size="19.20" textLength="9.81" lengthAdjust="spacingAndGlyphs" font-style="italic">k</text>
<text x="9.78" y="181.30" font-size="13.80" textLength="7.36" lengthAdjust="spacingAndGlyphs" font-style="italic">p</text>
<rect x="24.30" y="171" width="12.50" height="1" fill="#111"/>
<rect x="24.30" y="175" width="12.50" height="1" fill="#111"/>
<rect x="44.90" y="173" width="11.20" height="1" fill="#111"/>
<text x="57.68" y="178.70" font-size="19.20" textLength="18.46" lengthAdjust="spacingAndGlyphs">50</text>
<text x="77.81" y="178.70" font-size="19.20" textLength="13.36" lengthAdjust="spacingAndGlyphs" font-style="italic">P</text>
<text x="91.48" y="178.70" font-size="19.20" textLength="10.34" lengthAdjust="spacingAndGlyphs" font-style="italic">a</text>
<text x="102.20" y="178.70" font-size="19.20" textLength="7.74" lengthAdjust="spacingAndGlyphs">/</text>
<text x="109.93" y="178.70" font-size="19.20" textLength="18.03" lengthAdjust="spacingAndGlyphs" font-style="italic">m</text>
<text transform="translate(234.97 155.10) scale(1.080 1.090)" font-size="19.20">(</text>
<text x="241.87" y="154.60" font-size="19.20" textLength="10.37" lengthAdjust="spacingAndGlyphs">b</text>
<text transform="translate(252.24 155.10) scale(1.080 1.090)" font-size="19.20">)</text>
<text x="264.58" y="154.60" font-size="19.20" textLength="56.26" lengthAdjust="spacingAndGlyphs">Elastic</text>
<text x="324.21" y="154.60" font-size="19.20" textLength="6.54" lengthAdjust="spacingAndGlyphs">-</text>
<text x="336.91" y="154.60" font-size="19.20" textLength="13.44" lengthAdjust="spacingAndGlyphs" font-style="italic">R</text>
<rect x="356.90" y="147" width="12.40" height="1" fill="#111"/>
<rect x="356.90" y="151" width="12.40" height="1" fill="#111"/>
<text x="375.11" y="154.60" font-size="19.20" textLength="28.04" lengthAdjust="spacingAndGlyphs">100</text>
<text x="403.77" y="154.60" font-size="19.20" textLength="15.23" lengthAdjust="spacingAndGlyphs">Δ</text>
<text x="420.20" y="154.60" font-size="19.20" textLength="8.97" lengthAdjust="spacingAndGlyphs" font-style="italic">x</text>
<text x="430.89" y="154.60" font-size="19.20" textLength="4.35" lengthAdjust="spacingAndGlyphs">,</text>
<text x="234.74" y="178.70" font-size="19.20" textLength="9.81" lengthAdjust="spacingAndGlyphs" font-style="italic">k</text>
<text x="244.18" y="181.30" font-size="13.80" textLength="7.36" lengthAdjust="spacingAndGlyphs" font-style="italic">p</text>
<rect x="258.70" y="171" width="12.50" height="1" fill="#111"/>
<rect x="258.70" y="175" width="12.50" height="1" fill="#111"/>
<rect x="279.30" y="173" width="11.20" height="1" fill="#111"/>
<text x="292.08" y="178.70" font-size="19.20" textLength="18.46" lengthAdjust="spacingAndGlyphs">50</text>
<text x="312.21" y="178.70" font-size="19.20" textLength="13.36" lengthAdjust="spacingAndGlyphs" font-style="italic">P</text>
<text x="325.88" y="178.70" font-size="19.20" textLength="10.34" lengthAdjust="spacingAndGlyphs" font-style="italic">a</text>
<text x="336.60" y="178.70" font-size="19.20" textLength="7.74" lengthAdjust="spacingAndGlyphs">/</text>
<text x="344.33" y="178.70" font-size="19.20" textLength="18.03" lengthAdjust="spacingAndGlyphs" font-style="italic">m</text>
<text transform="translate(469.31 155.10) scale(1.026 1.090)" font-size="19.20">(</text>
<text x="475.88" y="154.60" font-size="19.20" textLength="8.75" lengthAdjust="spacingAndGlyphs">c</text>
<text transform="translate(484.62 155.10) scale(1.026 1.090)" font-size="19.20">)</text>
<text x="497.38" y="154.60" font-size="19.20" textLength="56.06" lengthAdjust="spacingAndGlyphs">Elastic</text>
<text x="557.89" y="154.60" font-size="19.20" textLength="6.79" lengthAdjust="spacingAndGlyphs">-</text>
<text x="571.51" y="154.60" font-size="19.20" textLength="13.64" lengthAdjust="spacingAndGlyphs" font-style="italic">R</text>
<rect x="590.90" y="147" width="12.40" height="1" fill="#111"/>
<rect x="590.90" y="151" width="12.40" height="1" fill="#111"/>
<text x="609.85" y="154.60" font-size="19.20" textLength="28.31" lengthAdjust="spacingAndGlyphs">200</text>
<text x="638.18" y="154.60" font-size="19.20" textLength="15.12" lengthAdjust="spacingAndGlyphs">Δ</text>
<text x="654.60" y="154.60" font-size="19.20" textLength="8.88" lengthAdjust="spacingAndGlyphs" font-style="italic">x</text>
<text x="664.65" y="154.60" font-size="19.20" textLength="4.68" lengthAdjust="spacingAndGlyphs">,</text>
<text x="468.94" y="178.70" font-size="19.20" textLength="9.81" lengthAdjust="spacingAndGlyphs" font-style="italic">k</text>
<text x="478.38" y="181.30" font-size="13.80" textLength="7.36" lengthAdjust="spacingAndGlyphs" font-style="italic">p</text>
<rect x="492.90" y="171" width="12.50" height="1" fill="#111"/>
<rect x="492.90" y="175" width="12.50" height="1" fill="#111"/>
<rect x="513.50" y="173" width="11.20" height="1" fill="#111"/>
<text x="526.28" y="178.70" font-size="19.20" textLength="18.46" lengthAdjust="spacingAndGlyphs">50</text>
<text x="546.41" y="178.70" font-size="19.20" textLength="13.36" lengthAdjust="spacingAndGlyphs" font-style="italic">P</text>
<text x="560.08" y="178.70" font-size="19.20" textLength="10.34" lengthAdjust="spacingAndGlyphs" font-style="italic">a</text>
<text x="570.80" y="178.70" font-size="19.20" textLength="7.74" lengthAdjust="spacingAndGlyphs">/</text>
<text x="578.53" y="178.70" font-size="19.20" textLength="18.03" lengthAdjust="spacingAndGlyphs" font-style="italic">m</text>
<text transform="translate(1.12 344.40) scale(1.013 1.090)" font-size="19.20">(</text>
<text x="7.60" y="343.90" font-size="19.20" textLength="9.72" lengthAdjust="spacingAndGlyphs">d</text>
<text transform="translate(17.32 344.40) scale(1.013 1.090)" font-size="19.20">)</text>
<text x="31.58" y="343.90" font-size="19.20" textLength="56.47" lengthAdjust="spacingAndGlyphs">Elastic</text>
<text x="93.79" y="343.90" font-size="19.20" textLength="6.79" lengthAdjust="spacingAndGlyphs">-</text>
<text x="109.31" y="343.90" font-size="19.20" textLength="13.13" lengthAdjust="spacingAndGlyphs" font-style="italic">R</text>
<rect x="130.00" y="336" width="12.80" height="1" fill="#111"/>
<rect x="130.00" y="340" width="12.80" height="1" fill="#111"/>
<text x="150.13" y="343.90" font-size="19.20" textLength="19.45" lengthAdjust="spacingAndGlyphs">50</text>
<text x="169.36" y="343.90" font-size="19.20" textLength="15.34" lengthAdjust="spacingAndGlyphs">Δ</text>
<text x="186.21" y="343.90" font-size="19.20" textLength="9.17" lengthAdjust="spacingAndGlyphs" font-style="italic">x</text>
<text x="195.90" y="343.90" font-size="19.20" textLength="5.00" lengthAdjust="spacingAndGlyphs">,</text>
<text x="0.34" y="367.50" font-size="19.20" textLength="9.81" lengthAdjust="spacingAndGlyphs" font-style="italic">k</text>
<text x="9.78" y="370.10" font-size="13.80" textLength="7.36" lengthAdjust="spacingAndGlyphs" font-style="italic">p</text>
<rect x="24.30" y="360" width="12.50" height="1" fill="#111"/>
<rect x="24.30" y="364" width="12.50" height="1" fill="#111"/>
<rect x="44.90" y="362" width="10.90" height="1" fill="#111"/>
<text x="57.20" y="367.50" font-size="19.20" textLength="28.26" lengthAdjust="spacingAndGlyphs">150</text>
<text x="86.31" y="367.50" font-size="19.20" textLength="13.56" lengthAdjust="spacingAndGlyphs" font-style="italic">P</text>
<text x="100.81" y="367.50" font-size="19.20" textLength="9.89" lengthAdjust="spacingAndGlyphs" font-style="italic">a</text>
<text x="111.10" y="367.50" font-size="19.20" textLength="7.74" lengthAdjust="spacingAndGlyphs">/</text>
<text x="119.15" y="367.50" font-size="19.20" textLength="17.58" lengthAdjust="spacingAndGlyphs" font-style="italic">m</text>
<text transform="translate(235.01 344.40) scale(1.026 1.090)" font-size="19.20">(</text>
<text x="241.58" y="343.90" font-size="19.20" textLength="8.75" lengthAdjust="spacingAndGlyphs">e</text>
<text transform="translate(250.32 344.40) scale(1.026 1.090)" font-size="19.20">)</text>
<text x="263.18" y="343.90" font-size="19.20" textLength="56.16" lengthAdjust="spacingAndGlyphs">Elastic</text>
<text x="323.41" y="343.90" font-size="19.20" textLength="6.54" lengthAdjust="spacingAndGlyphs">-</text>
<text x="337.01" y="343.90" font-size="19.20" textLength="13.44" lengthAdjust="spacingAndGlyphs" font-style="italic">R</text>
<rect x="356.90" y="336" width="12.40" height="1" fill="#111"/>
<rect x="356.90" y="340" width="12.40" height="1" fill="#111"/>
<text x="375.11" y="343.90" font-size="19.20" textLength="28.04" lengthAdjust="spacingAndGlyphs">100</text>
<text x="403.77" y="343.90" font-size="19.20" textLength="15.23" lengthAdjust="spacingAndGlyphs">Δ</text>
<text x="420.20" y="343.90" font-size="19.20" textLength="8.97" lengthAdjust="spacingAndGlyphs" font-style="italic">x</text>
<text x="430.89" y="343.90" font-size="19.20" textLength="4.35" lengthAdjust="spacingAndGlyphs">,</text>
<text x="234.74" y="367.50" font-size="19.20" textLength="9.81" lengthAdjust="spacingAndGlyphs" font-style="italic">k</text>
<text x="244.18" y="370.10" font-size="13.80" textLength="7.36" lengthAdjust="spacingAndGlyphs" font-style="italic">p</text>
<rect x="258.70" y="360" width="12.50" height="1" fill="#111"/>
<rect x="258.70" y="364" width="12.50" height="1" fill="#111"/>
<rect x="279.30" y="362" width="10.90" height="1" fill="#111"/>
<text x="291.60" y="367.50" font-size="19.20" textLength="28.26" lengthAdjust="spacingAndGlyphs">150</text>
<text x="320.71" y="367.50" font-size="19.20" textLength="13.56" lengthAdjust="spacingAndGlyphs" font-style="italic">P</text>
<text x="335.21" y="367.50" font-size="19.20" textLength="9.89" lengthAdjust="spacingAndGlyphs" font-style="italic">a</text>
<text x="345.50" y="367.50" font-size="19.20" textLength="7.74" lengthAdjust="spacingAndGlyphs">/</text>
<text x="353.55" y="367.50" font-size="19.20" textLength="17.58" lengthAdjust="spacingAndGlyphs" font-style="italic">m</text>
<text transform="translate(469.27 344.40) scale(1.082 1.090)" font-size="19.20">(</text>
<text x="476.18" y="343.90" font-size="19.20" textLength="6.92" lengthAdjust="spacingAndGlyphs">f</text>
<text transform="translate(483.10 344.40) scale(1.082 1.090)" font-size="19.20">)</text>
<text x="496.48" y="343.90" font-size="19.20" textLength="56.16" lengthAdjust="spacingAndGlyphs">Elastic</text>
<text x="557.10" y="343.90" font-size="19.20" textLength="6.66" lengthAdjust="spacingAndGlyphs">-</text>
<text x="571.31" y="343.90" font-size="19.20" textLength="13.64" lengthAdjust="spacingAndGlyphs" font-style="italic">R</text>
<rect x="590.90" y="336" width="12.40" height="1" fill="#111"/>
<rect x="590.90" y="340" width="12.40" height="1" fill="#111"/>
<text x="609.85" y="343.90" font-size="19.20" textLength="28.31" lengthAdjust="spacingAndGlyphs">200</text>
<text x="638.18" y="343.90" font-size="19.20" textLength="15.12" lengthAdjust="spacingAndGlyphs">Δ</text>
<text x="654.60" y="343.90" font-size="19.20" textLength="8.88" lengthAdjust="spacingAndGlyphs" font-style="italic">x</text>
<text x="664.65" y="343.90" font-size="19.20" textLength="4.68" lengthAdjust="spacingAndGlyphs">,</text>
<text x="468.94" y="367.50" font-size="19.20" textLength="9.81" lengthAdjust="spacingAndGlyphs" font-style="italic">k</text>
<text x="478.38" y="370.10" font-size="13.80" textLength="7.36" lengthAdjust="spacingAndGlyphs" font-style="italic">p</text>
<rect x="492.90" y="360" width="12.50" height="1" fill="#111"/>
<rect x="492.90" y="364" width="12.50" height="1" fill="#111"/>
<rect x="513.50" y="362" width="10.90" height="1" fill="#111"/>
<text x="525.80" y="367.50" font-size="19.20" textLength="28.26" lengthAdjust="spacingAndGlyphs">150</text>
<text x="554.91" y="367.50" font-size="19.20" textLength="13.56" lengthAdjust="spacingAndGlyphs" font-style="italic">P</text>
<text x="569.41" y="367.50" font-size="19.20" textLength="9.89" lengthAdjust="spacingAndGlyphs" font-style="italic">a</text>
<text x="579.70" y="367.50" font-size="19.20" textLength="7.74" lengthAdjust="spacingAndGlyphs">/</text>
<text x="587.75" y="367.50" font-size="19.20" textLength="17.58" lengthAdjust="spacingAndGlyphs" font-style="italic">m</text>
<text transform="translate(0.94 533.80) scale(0.998 1.090)" font-size="19.20">(</text>
<text x="7.32" y="533.30" font-size="19.20" textLength="9.58" lengthAdjust="spacingAndGlyphs">g</text>
<text transform="translate(16.90 533.80) scale(0.998 1.090)" font-size="19.20">)</text>
<text x="33.52" y="533.30" font-size="19.20" textLength="43.03" lengthAdjust="spacingAndGlyphs">Rigid</text>
<text x="85.91" y="533.30" font-size="19.20" textLength="6.54" lengthAdjust="spacingAndGlyphs">-</text>
<text x="102.71" y="533.30" font-size="19.20" textLength="13.34" lengthAdjust="spacingAndGlyphs" font-style="italic">R</text>
<rect x="126.90" y="526" width="12.70" height="1" fill="#111"/>
<rect x="126.90" y="530" width="12.70" height="1" fill="#111"/>
<text x="150.13" y="533.30" font-size="19.20" textLength="19.45" lengthAdjust="spacingAndGlyphs">50</text>
<text x="169.36" y="533.30" font-size="19.20" textLength="15.34" lengthAdjust="spacingAndGlyphs">Δ</text>
<text x="186.21" y="533.30" font-size="19.20" textLength="9.17" lengthAdjust="spacingAndGlyphs" font-style="italic">x</text>
<text x="195.90" y="533.30" font-size="19.20" textLength="5.00" lengthAdjust="spacingAndGlyphs">,</text>
<text x="0.34" y="557.00" font-size="19.20" textLength="9.81" lengthAdjust="spacingAndGlyphs" font-style="italic">k</text>
<text x="9.78" y="559.60" font-size="13.80" textLength="7.36" lengthAdjust="spacingAndGlyphs" font-style="italic">p</text>
<rect x="24.30" y="550" width="12.50" height="1" fill="#111"/>
<rect x="24.30" y="553" width="12.50" height="1" fill="#111"/>
<rect x="44.90" y="552" width="11.20" height="1" fill="#111"/>
<text x="57.68" y="557.00" font-size="19.20" textLength="18.46" lengthAdjust="spacingAndGlyphs">50</text>
<text x="77.81" y="557.00" font-size="19.20" textLength="13.36" lengthAdjust="spacingAndGlyphs" font-style="italic">P</text>
<text x="91.48" y="557.00" font-size="19.20" textLength="10.34" lengthAdjust="spacingAndGlyphs" font-style="italic">a</text>
<text x="102.20" y="557.00" font-size="19.20" textLength="7.74" lengthAdjust="spacingAndGlyphs">/</text>
<text x="109.93" y="557.00" font-size="19.20" textLength="18.03" lengthAdjust="spacingAndGlyphs" font-style="italic">m</text>
<text transform="translate(234.98 533.80) scale(1.066 1.090)" font-size="19.20">(</text>
<text x="241.79" y="533.30" font-size="19.20" textLength="10.23" lengthAdjust="spacingAndGlyphs">h</text>
<text transform="translate(252.03 533.80) scale(1.066 1.090)" font-size="19.20">)</text>
<text x="266.71" y="533.30" font-size="19.20" textLength="43.74" lengthAdjust="spacingAndGlyphs">Rigid</text>
<text x="317.90" y="533.30" font-size="19.20" textLength="6.66" lengthAdjust="spacingAndGlyphs">-</text>
<text x="333.21" y="533.30" font-size="19.20" textLength="13.44" lengthAdjust="spacingAndGlyphs" font-style="italic">R</text>
<rect x="354.70" y="526" width="12.60" height="1" fill="#111"/>
<rect x="354.70" y="530" width="12.60" height="1" fill="#111"/>
<text x="375.11" y="533.30" font-size="19.20" textLength="28.04" lengthAdjust="spacingAndGlyphs">100</text>
<text x="403.77" y="533.30" font-size="19.20" textLength="15.23" lengthAdjust="spacingAndGlyphs">Δ</text>
<text x="420.20" y="533.30" font-size="19.20" textLength="8.97" lengthAdjust="spacingAndGlyphs" font-style="italic">x</text>
<text x="430.89" y="533.30" font-size="19.20" textLength="4.35" lengthAdjust="spacingAndGlyphs">,</text>
<text x="234.74" y="557.00" font-size="19.20" textLength="9.81" lengthAdjust="spacingAndGlyphs" font-style="italic">k</text>
<text x="244.18" y="559.60" font-size="13.80" textLength="7.36" lengthAdjust="spacingAndGlyphs" font-style="italic">p</text>
<rect x="258.70" y="550" width="12.50" height="1" fill="#111"/>
<rect x="258.70" y="553" width="12.50" height="1" fill="#111"/>
<rect x="279.30" y="552" width="11.20" height="1" fill="#111"/>
<text x="292.08" y="557.00" font-size="19.20" textLength="18.46" lengthAdjust="spacingAndGlyphs">50</text>
<text x="312.21" y="557.00" font-size="19.20" textLength="13.36" lengthAdjust="spacingAndGlyphs" font-style="italic">P</text>
<text x="325.88" y="557.00" font-size="19.20" textLength="10.34" lengthAdjust="spacingAndGlyphs" font-style="italic">a</text>
<text x="336.60" y="557.00" font-size="19.20" textLength="7.74" lengthAdjust="spacingAndGlyphs">/</text>
<text x="344.33" y="557.00" font-size="19.20" textLength="18.03" lengthAdjust="spacingAndGlyphs" font-style="italic">m</text>
<text transform="translate(469.32 533.80) scale(1.023 1.090)" font-size="19.20">(</text>
<text x="475.86" y="533.30" font-size="19.20" textLength="5.46" lengthAdjust="spacingAndGlyphs">i</text>
<text transform="translate(481.32 533.80) scale(1.023 1.090)" font-size="19.20">)</text>
<text x="496.51" y="533.30" font-size="19.20" textLength="43.54" lengthAdjust="spacingAndGlyphs">Rigid</text>
<text x="548.40" y="533.30" font-size="19.20" textLength="6.66" lengthAdjust="spacingAndGlyphs">-</text>
<text x="565.41" y="533.30" font-size="19.20" textLength="13.34" lengthAdjust="spacingAndGlyphs" font-style="italic">R</text>
<rect x="587.70" y="526" width="12.40" height="1" fill="#111"/>
<rect x="587.70" y="530" width="12.40" height="1" fill="#111"/>
<text x="609.85" y="533.30" font-size="19.20" textLength="28.31" lengthAdjust="spacingAndGlyphs">200</text>
<text x="638.18" y="533.30" font-size="19.20" textLength="15.12" lengthAdjust="spacingAndGlyphs">Δ</text>
<text x="654.60" y="533.30" font-size="19.20" textLength="8.88" lengthAdjust="spacingAndGlyphs" font-style="italic">x</text>
<text x="664.65" y="533.30" font-size="19.20" textLength="4.68" lengthAdjust="spacingAndGlyphs">,</text>
<text x="468.94" y="557.00" font-size="19.20" textLength="9.81" lengthAdjust="spacingAndGlyphs" font-style="italic">k</text>
<text x="478.38" y="559.60" font-size="13.80" textLength="7.36" lengthAdjust="spacingAndGlyphs" font-style="italic">p</text>
<rect x="492.90" y="550" width="12.50" height="1" fill="#111"/>
<rect x="492.90" y="553" width="12.50" height="1" fill="#111"/>
<rect x="513.50" y="552" width="11.20" height="1" fill="#111"/>
<text x="526.28" y="557.00" font-size="19.20" textLength="18.46" lengthAdjust="spacingAndGlyphs">50</text>
<text x="546.41" y="557.00" font-size="19.20" textLength="13.36" lengthAdjust="spacingAndGlyphs" font-style="italic">P</text>
<text x="560.08" y="557.00" font-size="19.20" textLength="10.34" lengthAdjust="spacingAndGlyphs" font-style="italic">a</text>
<text x="570.80" y="557.00" font-size="19.20" textLength="7.74" lengthAdjust="spacingAndGlyphs">/</text>
<text x="578.53" y="557.00" font-size="19.20" textLength="18.03" lengthAdjust="spacingAndGlyphs" font-style="italic">m</text>
</svg></body></html>
